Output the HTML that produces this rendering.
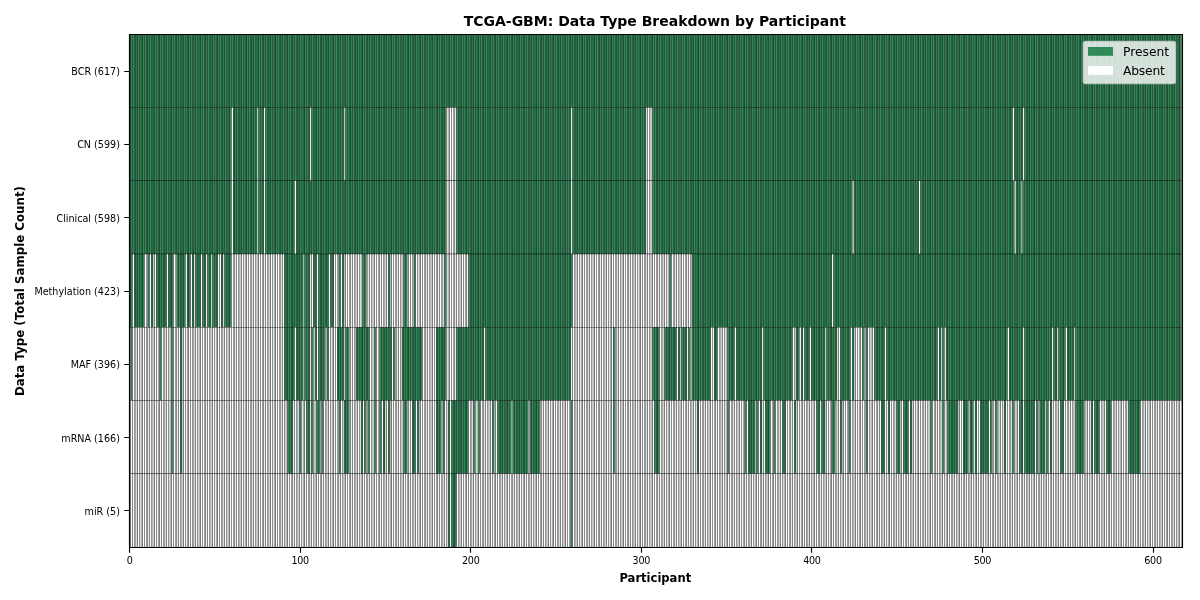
<!DOCTYPE html>
<html lang="en"><head><meta charset="utf-8"><title>TCGA-GBM: Data Type Breakdown by Participant</title>
<style>html,body{margin:0;padding:0;background:#fff}body{width:1200px;height:600px;overflow:hidden}svg{display:block}text{font-family:"DejaVu Sans","Liberation Sans",sans-serif;fill:#000}.k rect{stroke:#000;stroke-width:0.347;height:83.277px;width:1.70559px}.g{fill:#2e8b57}.w{fill:#fff}.tk{font-size:9.6px}.b{font-weight:bold}.sp{stroke:#000;stroke-width:1.11;fill:none;stroke-linecap:square}.t{stroke:#000;stroke-width:1.11;fill:none}</style></head><body>
<svg width="1200" height="600" viewBox="0 0 1200 600">
<rect width="1200" height="600" fill="#fff"/>
<defs>
<clipPath id="r0"><rect x="128.15" y="34.19" width="1054.35" height="73.277"/></clipPath>
<clipPath id="r1"><rect x="128.15" y="107.467" width="1054.35" height="73.277"/></clipPath>
<clipPath id="r2"><rect x="128.15" y="180.744" width="1054.35" height="73.277"/></clipPath>
<clipPath id="r3"><rect x="128.15" y="254.021" width="1054.35" height="73.277"/></clipPath>
<clipPath id="r4"><rect x="128.15" y="327.299" width="1054.35" height="73.277"/></clipPath>
<clipPath id="r5"><rect x="128.15" y="400.576" width="1054.35" height="73.277"/></clipPath>
<clipPath id="r6"><rect x="128.15" y="473.853" width="1054.35" height="73.277"/></clipPath>
</defs>
<g class="c">
<g clip-path="url(#r0)"><g class="k" transform="translate(0 29.19)">
<rect class="g" x="129.15"/><rect class="g" x="130.856"/><rect class="g" x="132.561"/><rect class="g" x="134.267"/><rect class="g" x="135.972"/><rect class="g" x="137.678"/><rect class="g" x="139.384"/><rect class="g" x="141.089"/><rect class="g" x="142.795"/><rect class="g" x="144.5"/><rect class="g" x="146.206"/><rect class="g" x="147.912"/><rect class="g" x="149.617"/><rect class="g" x="151.323"/><rect class="g" x="153.028"/><rect class="g" x="154.734"/><rect class="g" x="156.439"/><rect class="g" x="158.145"/><rect class="g" x="159.851"/><rect class="g" x="161.556"/><rect class="g" x="163.262"/><rect class="g" x="164.967"/><rect class="g" x="166.673"/><rect class="g" x="168.379"/><rect class="g" x="170.084"/><rect class="g" x="171.79"/><rect class="g" x="173.495"/><rect class="g" x="175.201"/><rect class="g" x="176.907"/><rect class="g" x="178.612"/><rect class="g" x="180.318"/><rect class="g" x="182.023"/><rect class="g" x="183.729"/><rect class="g" x="185.435"/><rect class="g" x="187.14"/><rect class="g" x="188.846"/><rect class="g" x="190.551"/><rect class="g" x="192.257"/><rect class="g" x="193.962"/><rect class="g" x="195.668"/><rect class="g" x="197.374"/><rect class="g" x="199.079"/><rect class="g" x="200.785"/><rect class="g" x="202.49"/><rect class="g" x="204.196"/><rect class="g" x="205.902"/><rect class="g" x="207.607"/><rect class="g" x="209.313"/><rect class="g" x="211.018"/><rect class="g" x="212.724"/><rect class="g" x="214.43"/><rect class="g" x="216.135"/><rect class="g" x="217.841"/><rect class="g" x="219.546"/><rect class="g" x="221.252"/><rect class="g" x="222.958"/><rect class="g" x="224.663"/><rect class="g" x="226.369"/><rect class="g" x="228.074"/><rect class="g" x="229.78"/><rect class="g" x="231.485"/><rect class="g" x="233.191"/><rect class="g" x="234.897"/><rect class="g" x="236.602"/><rect class="g" x="238.308"/><rect class="g" x="240.013"/><rect class="g" x="241.719"/><rect class="g" x="243.425"/><rect class="g" x="245.13"/><rect class="g" x="246.836"/><rect class="g" x="248.541"/><rect class="g" x="250.247"/><rect class="g" x="251.953"/><rect class="g" x="253.658"/><rect class="g" x="255.364"/><rect class="g" x="257.069"/><rect class="g" x="258.775"/><rect class="g" x="260.481"/><rect class="g" x="262.186"/><rect class="g" x="263.892"/><rect class="g" x="265.597"/><rect class="g" x="267.303"/><rect class="g" x="269.009"/><rect class="g" x="270.714"/><rect class="g" x="272.42"/><rect class="g" x="274.125"/><rect class="g" x="275.831"/><rect class="g" x="277.536"/><rect class="g" x="279.242"/><rect class="g" x="280.948"/><rect class="g" x="282.653"/><rect class="g" x="284.359"/><rect class="g" x="286.064"/><rect class="g" x="287.77"/><rect class="g" x="289.476"/><rect class="g" x="291.181"/><rect class="g" x="292.887"/><rect class="g" x="294.592"/><rect class="g" x="296.298"/><rect class="g" x="298.004"/><rect class="g" x="299.709"/><rect class="g" x="301.415"/><rect class="g" x="303.12"/><rect class="g" x="304.826"/><rect class="g" x="306.532"/><rect class="g" x="308.237"/><rect class="g" x="309.943"/><rect class="g" x="311.648"/><rect class="g" x="313.354"/><rect class="g" x="315.059"/><rect class="g" x="316.765"/><rect class="g" x="318.471"/><rect class="g" x="320.176"/><rect class="g" x="321.882"/><rect class="g" x="323.587"/><rect class="g" x="325.293"/><rect class="g" x="326.999"/><rect class="g" x="328.704"/><rect class="g" x="330.41"/><rect class="g" x="332.115"/><rect class="g" x="333.821"/><rect class="g" x="335.527"/><rect class="g" x="337.232"/><rect class="g" x="338.938"/><rect class="g" x="340.643"/><rect class="g" x="342.349"/><rect class="g" x="344.055"/><rect class="g" x="345.76"/><rect class="g" x="347.466"/><rect class="g" x="349.171"/><rect class="g" x="350.877"/><rect class="g" x="352.582"/><rect class="g" x="354.288"/><rect class="g" x="355.994"/><rect class="g" x="357.699"/><rect class="g" x="359.405"/><rect class="g" x="361.11"/><rect class="g" x="362.816"/><rect class="g" x="364.522"/><rect class="g" x="366.227"/><rect class="g" x="367.933"/><rect class="g" x="369.638"/><rect class="g" x="371.344"/><rect class="g" x="373.05"/><rect class="g" x="374.755"/><rect class="g" x="376.461"/><rect class="g" x="378.166"/><rect class="g" x="379.872"/><rect class="g" x="381.578"/><rect class="g" x="383.283"/><rect class="g" x="384.989"/><rect class="g" x="386.694"/><rect class="g" x="388.4"/><rect class="g" x="390.106"/><rect class="g" x="391.811"/><rect class="g" x="393.517"/><rect class="g" x="395.222"/><rect class="g" x="396.928"/><rect class="g" x="398.633"/><rect class="g" x="400.339"/><rect class="g" x="402.045"/><rect class="g" x="403.75"/><rect class="g" x="405.456"/><rect class="g" x="407.161"/><rect class="g" x="408.867"/><rect class="g" x="410.573"/><rect class="g" x="412.278"/><rect class="g" x="413.984"/><rect class="g" x="415.689"/><rect class="g" x="417.395"/><rect class="g" x="419.101"/><rect class="g" x="420.806"/><rect class="g" x="422.512"/><rect class="g" x="424.217"/><rect class="g" x="425.923"/><rect class="g" x="427.629"/><rect class="g" x="429.334"/><rect class="g" x="431.04"/><rect class="g" x="432.745"/><rect class="g" x="434.451"/><rect class="g" x="436.156"/><rect class="g" x="437.862"/><rect class="g" x="439.568"/><rect class="g" x="441.273"/><rect class="g" x="442.979"/><rect class="g" x="444.684"/><rect class="g" x="446.39"/><rect class="g" x="448.096"/><rect class="g" x="449.801"/><rect class="g" x="451.507"/><rect class="g" x="453.212"/><rect class="g" x="454.918"/><rect class="g" x="456.624"/><rect class="g" x="458.329"/><rect class="g" x="460.035"/><rect class="g" x="461.74"/><rect class="g" x="463.446"/><rect class="g" x="465.152"/><rect class="g" x="466.857"/><rect class="g" x="468.563"/><rect class="g" x="470.268"/><rect class="g" x="471.974"/><rect class="g" x="473.679"/><rect class="g" x="475.385"/><rect class="g" x="477.091"/><rect class="g" x="478.796"/><rect class="g" x="480.502"/><rect class="g" x="482.207"/><rect class="g" x="483.913"/><rect class="g" x="485.619"/><rect class="g" x="487.324"/><rect class="g" x="489.03"/><rect class="g" x="490.735"/><rect class="g" x="492.441"/><rect class="g" x="494.147"/><rect class="g" x="495.852"/><rect class="g" x="497.558"/><rect class="g" x="499.263"/><rect class="g" x="500.969"/><rect class="g" x="502.675"/><rect class="g" x="504.38"/><rect class="g" x="506.086"/><rect class="g" x="507.791"/><rect class="g" x="509.497"/><rect class="g" x="511.203"/><rect class="g" x="512.908"/><rect class="g" x="514.614"/><rect class="g" x="516.319"/><rect class="g" x="518.025"/><rect class="g" x="519.73"/><rect class="g" x="521.436"/><rect class="g" x="523.142"/><rect class="g" x="524.847"/><rect class="g" x="526.553"/><rect class="g" x="528.258"/><rect class="g" x="529.964"/><rect class="g" x="531.67"/><rect class="g" x="533.375"/><rect class="g" x="535.081"/><rect class="g" x="536.786"/><rect class="g" x="538.492"/><rect class="g" x="540.198"/><rect class="g" x="541.903"/><rect class="g" x="543.609"/><rect class="g" x="545.314"/><rect class="g" x="547.02"/><rect class="g" x="548.726"/><rect class="g" x="550.431"/><rect class="g" x="552.137"/><rect class="g" x="553.842"/><rect class="g" x="555.548"/><rect class="g" x="557.253"/><rect class="g" x="558.959"/><rect class="g" x="560.665"/><rect class="g" x="562.37"/><rect class="g" x="564.076"/><rect class="g" x="565.781"/><rect class="g" x="567.487"/><rect class="g" x="569.193"/><rect class="g" x="570.898"/><rect class="g" x="572.604"/><rect class="g" x="574.309"/><rect class="g" x="576.015"/><rect class="g" x="577.721"/><rect class="g" x="579.426"/><rect class="g" x="581.132"/><rect class="g" x="582.837"/><rect class="g" x="584.543"/><rect class="g" x="586.249"/><rect class="g" x="587.954"/><rect class="g" x="589.66"/><rect class="g" x="591.365"/><rect class="g" x="593.071"/><rect class="g" x="594.776"/><rect class="g" x="596.482"/><rect class="g" x="598.188"/><rect class="g" x="599.893"/><rect class="g" x="601.599"/><rect class="g" x="603.304"/><rect class="g" x="605.01"/><rect class="g" x="606.716"/><rect class="g" x="608.421"/><rect class="g" x="610.127"/><rect class="g" x="611.832"/><rect class="g" x="613.538"/><rect class="g" x="615.244"/><rect class="g" x="616.949"/><rect class="g" x="618.655"/><rect class="g" x="620.36"/><rect class="g" x="622.066"/><rect class="g" x="623.772"/><rect class="g" x="625.477"/><rect class="g" x="627.183"/><rect class="g" x="628.888"/><rect class="g" x="630.594"/><rect class="g" x="632.3"/><rect class="g" x="634.005"/><rect class="g" x="635.711"/><rect class="g" x="637.416"/><rect class="g" x="639.122"/><rect class="g" x="640.827"/><rect class="g" x="642.533"/><rect class="g" x="644.239"/><rect class="g" x="645.944"/><rect class="g" x="647.65"/><rect class="g" x="649.355"/><rect class="g" x="651.061"/><rect class="g" x="652.767"/><rect class="g" x="654.472"/><rect class="g" x="656.178"/><rect class="g" x="657.883"/><rect class="g" x="659.589"/><rect class="g" x="661.295"/><rect class="g" x="663"/><rect class="g" x="664.706"/><rect class="g" x="666.411"/><rect class="g" x="668.117"/><rect class="g" x="669.823"/><rect class="g" x="671.528"/><rect class="g" x="673.234"/><rect class="g" x="674.939"/><rect class="g" x="676.645"/><rect class="g" x="678.35"/><rect class="g" x="680.056"/><rect class="g" x="681.762"/><rect class="g" x="683.467"/><rect class="g" x="685.173"/><rect class="g" x="686.878"/><rect class="g" x="688.584"/><rect class="g" x="690.29"/><rect class="g" x="691.995"/><rect class="g" x="693.701"/><rect class="g" x="695.406"/><rect class="g" x="697.112"/><rect class="g" x="698.818"/><rect class="g" x="700.523"/><rect class="g" x="702.229"/><rect class="g" x="703.934"/><rect class="g" x="705.64"/><rect class="g" x="707.346"/><rect class="g" x="709.051"/><rect class="g" x="710.757"/><rect class="g" x="712.462"/><rect class="g" x="714.168"/><rect class="g" x="715.874"/><rect class="g" x="717.579"/><rect class="g" x="719.285"/><rect class="g" x="720.99"/><rect class="g" x="722.696"/><rect class="g" x="724.401"/><rect class="g" x="726.107"/><rect class="g" x="727.813"/><rect class="g" x="729.518"/><rect class="g" x="731.224"/><rect class="g" x="732.929"/><rect class="g" x="734.635"/><rect class="g" x="736.341"/><rect class="g" x="738.046"/><rect class="g" x="739.752"/><rect class="g" x="741.457"/><rect class="g" x="743.163"/><rect class="g" x="744.869"/><rect class="g" x="746.574"/><rect class="g" x="748.28"/><rect class="g" x="749.985"/><rect class="g" x="751.691"/><rect class="g" x="753.397"/><rect class="g" x="755.102"/><rect class="g" x="756.808"/><rect class="g" x="758.513"/><rect class="g" x="760.219"/><rect class="g" x="761.924"/><rect class="g" x="763.63"/><rect class="g" x="765.336"/><rect class="g" x="767.041"/><rect class="g" x="768.747"/><rect class="g" x="770.452"/><rect class="g" x="772.158"/><rect class="g" x="773.864"/><rect class="g" x="775.569"/><rect class="g" x="777.275"/><rect class="g" x="778.98"/><rect class="g" x="780.686"/><rect class="g" x="782.392"/><rect class="g" x="784.097"/><rect class="g" x="785.803"/><rect class="g" x="787.508"/><rect class="g" x="789.214"/><rect class="g" x="790.92"/><rect class="g" x="792.625"/><rect class="g" x="794.331"/><rect class="g" x="796.036"/><rect class="g" x="797.742"/><rect class="g" x="799.447"/><rect class="g" x="801.153"/><rect class="g" x="802.859"/><rect class="g" x="804.564"/><rect class="g" x="806.27"/><rect class="g" x="807.975"/><rect class="g" x="809.681"/><rect class="g" x="811.387"/><rect class="g" x="813.092"/><rect class="g" x="814.798"/><rect class="g" x="816.503"/><rect class="g" x="818.209"/><rect class="g" x="819.915"/><rect class="g" x="821.62"/><rect class="g" x="823.326"/><rect class="g" x="825.031"/><rect class="g" x="826.737"/><rect class="g" x="828.443"/><rect class="g" x="830.148"/><rect class="g" x="831.854"/><rect class="g" x="833.559"/><rect class="g" x="835.265"/><rect class="g" x="836.971"/><rect class="g" x="838.676"/><rect class="g" x="840.382"/><rect class="g" x="842.087"/><rect class="g" x="843.793"/><rect class="g" x="845.498"/><rect class="g" x="847.204"/><rect class="g" x="848.91"/><rect class="g" x="850.615"/><rect class="g" x="852.321"/><rect class="g" x="854.026"/><rect class="g" x="855.732"/><rect class="g" x="857.438"/><rect class="g" x="859.143"/><rect class="g" x="860.849"/><rect class="g" x="862.554"/><rect class="g" x="864.26"/><rect class="g" x="865.966"/><rect class="g" x="867.671"/><rect class="g" x="869.377"/><rect class="g" x="871.082"/><rect class="g" x="872.788"/><rect class="g" x="874.494"/><rect class="g" x="876.199"/><rect class="g" x="877.905"/><rect class="g" x="879.61"/><rect class="g" x="881.316"/><rect class="g" x="883.021"/><rect class="g" x="884.727"/><rect class="g" x="886.433"/><rect class="g" x="888.138"/><rect class="g" x="889.844"/><rect class="g" x="891.549"/><rect class="g" x="893.255"/><rect class="g" x="894.961"/><rect class="g" x="896.666"/><rect class="g" x="898.372"/><rect class="g" x="900.077"/><rect class="g" x="901.783"/><rect class="g" x="903.489"/><rect class="g" x="905.194"/><rect class="g" x="906.9"/><rect class="g" x="908.605"/><rect class="g" x="910.311"/><rect class="g" x="912.017"/><rect class="g" x="913.722"/><rect class="g" x="915.428"/><rect class="g" x="917.133"/><rect class="g" x="918.839"/><rect class="g" x="920.544"/><rect class="g" x="922.25"/><rect class="g" x="923.956"/><rect class="g" x="925.661"/><rect class="g" x="927.367"/><rect class="g" x="929.072"/><rect class="g" x="930.778"/><rect class="g" x="932.484"/><rect class="g" x="934.189"/><rect class="g" x="935.895"/><rect class="g" x="937.6"/><rect class="g" x="939.306"/><rect class="g" x="941.012"/><rect class="g" x="942.717"/><rect class="g" x="944.423"/><rect class="g" x="946.128"/><rect class="g" x="947.834"/><rect class="g" x="949.54"/><rect class="g" x="951.245"/><rect class="g" x="952.951"/><rect class="g" x="954.656"/><rect class="g" x="956.362"/><rect class="g" x="958.068"/><rect class="g" x="959.773"/><rect class="g" x="961.479"/><rect class="g" x="963.184"/><rect class="g" x="964.89"/><rect class="g" x="966.595"/><rect class="g" x="968.301"/><rect class="g" x="970.007"/><rect class="g" x="971.712"/><rect class="g" x="973.418"/><rect class="g" x="975.123"/><rect class="g" x="976.829"/><rect class="g" x="978.535"/><rect class="g" x="980.24"/><rect class="g" x="981.946"/><rect class="g" x="983.651"/><rect class="g" x="985.357"/><rect class="g" x="987.063"/><rect class="g" x="988.768"/><rect class="g" x="990.474"/><rect class="g" x="992.179"/><rect class="g" x="993.885"/><rect class="g" x="995.591"/><rect class="g" x="997.296"/><rect class="g" x="999.002"/><rect class="g" x="1000.707"/><rect class="g" x="1002.413"/><rect class="g" x="1004.118"/><rect class="g" x="1005.824"/><rect class="g" x="1007.53"/><rect class="g" x="1009.235"/><rect class="g" x="1010.941"/><rect class="g" x="1012.646"/><rect class="g" x="1014.352"/><rect class="g" x="1016.058"/><rect class="g" x="1017.763"/><rect class="g" x="1019.469"/><rect class="g" x="1021.174"/><rect class="g" x="1022.88"/><rect class="g" x="1024.586"/><rect class="g" x="1026.291"/><rect class="g" x="1027.997"/><rect class="g" x="1029.702"/><rect class="g" x="1031.408"/><rect class="g" x="1033.114"/><rect class="g" x="1034.819"/><rect class="g" x="1036.525"/><rect class="g" x="1038.23"/><rect class="g" x="1039.936"/><rect class="g" x="1041.641"/><rect class="g" x="1043.347"/><rect class="g" x="1045.053"/><rect class="g" x="1046.758"/><rect class="g" x="1048.464"/><rect class="g" x="1050.169"/><rect class="g" x="1051.875"/><rect class="g" x="1053.581"/><rect class="g" x="1055.286"/><rect class="g" x="1056.992"/><rect class="g" x="1058.697"/><rect class="g" x="1060.403"/><rect class="g" x="1062.109"/><rect class="g" x="1063.814"/><rect class="g" x="1065.52"/><rect class="g" x="1067.225"/><rect class="g" x="1068.931"/><rect class="g" x="1070.637"/><rect class="g" x="1072.342"/><rect class="g" x="1074.048"/><rect class="g" x="1075.753"/><rect class="g" x="1077.459"/><rect class="g" x="1079.165"/><rect class="g" x="1080.87"/><rect class="g" x="1082.576"/><rect class="g" x="1084.281"/><rect class="g" x="1085.987"/><rect class="g" x="1087.692"/><rect class="g" x="1089.398"/><rect class="g" x="1091.104"/><rect class="g" x="1092.809"/><rect class="g" x="1094.515"/><rect class="g" x="1096.22"/><rect class="g" x="1097.926"/><rect class="g" x="1099.632"/><rect class="g" x="1101.337"/><rect class="g" x="1103.043"/><rect class="g" x="1104.748"/><rect class="g" x="1106.454"/><rect class="g" x="1108.16"/><rect class="g" x="1109.865"/><rect class="g" x="1111.571"/><rect class="g" x="1113.276"/><rect class="g" x="1114.982"/><rect class="g" x="1116.688"/><rect class="g" x="1118.393"/><rect class="g" x="1120.099"/><rect class="g" x="1121.804"/><rect class="g" x="1123.51"/><rect class="g" x="1125.215"/><rect class="g" x="1126.921"/><rect class="g" x="1128.627"/><rect class="g" x="1130.332"/><rect class="g" x="1132.038"/><rect class="g" x="1133.743"/><rect class="g" x="1135.449"/><rect class="g" x="1137.155"/><rect class="g" x="1138.86"/><rect class="g" x="1140.566"/><rect class="g" x="1142.271"/><rect class="g" x="1143.977"/><rect class="g" x="1145.683"/><rect class="g" x="1147.388"/><rect class="g" x="1149.094"/><rect class="g" x="1150.799"/><rect class="g" x="1152.505"/><rect class="g" x="1154.211"/><rect class="g" x="1155.916"/><rect class="g" x="1157.622"/><rect class="g" x="1159.327"/><rect class="g" x="1161.033"/><rect class="g" x="1162.738"/><rect class="g" x="1164.444"/><rect class="g" x="1166.15"/><rect class="g" x="1167.855"/><rect class="g" x="1169.561"/><rect class="g" x="1171.266"/><rect class="g" x="1172.972"/><rect class="g" x="1174.678"/><rect class="g" x="1176.383"/><rect class="g" x="1178.089"/><rect class="g" x="1179.794"/>
</g></g>
<rect x="128.976" y="34.016" width="1052.697" height="0.347"/>
<rect x="128.976" y="107.294" width="1052.697" height="0.347"/>
<g clip-path="url(#r1)"><g class="k" transform="translate(0 102.467)">
<rect class="g" x="129.15"/><rect class="g" x="130.856"/><rect class="g" x="132.561"/><rect class="g" x="134.267"/><rect class="g" x="135.972"/><rect class="g" x="137.678"/><rect class="g" x="139.384"/><rect class="g" x="141.089"/><rect class="g" x="142.795"/><rect class="g" x="144.5"/><rect class="g" x="146.206"/><rect class="g" x="147.912"/><rect class="g" x="149.617"/><rect class="g" x="151.323"/><rect class="g" x="153.028"/><rect class="g" x="154.734"/><rect class="g" x="156.439"/><rect class="g" x="158.145"/><rect class="g" x="159.851"/><rect class="g" x="161.556"/><rect class="g" x="163.262"/><rect class="g" x="164.967"/><rect class="g" x="166.673"/><rect class="g" x="168.379"/><rect class="g" x="170.084"/><rect class="g" x="171.79"/><rect class="g" x="173.495"/><rect class="g" x="175.201"/><rect class="g" x="176.907"/><rect class="g" x="178.612"/><rect class="g" x="180.318"/><rect class="g" x="182.023"/><rect class="g" x="183.729"/><rect class="g" x="185.435"/><rect class="g" x="187.14"/><rect class="g" x="188.846"/><rect class="g" x="190.551"/><rect class="g" x="192.257"/><rect class="g" x="193.962"/><rect class="g" x="195.668"/><rect class="g" x="197.374"/><rect class="g" x="199.079"/><rect class="g" x="200.785"/><rect class="g" x="202.49"/><rect class="g" x="204.196"/><rect class="g" x="205.902"/><rect class="g" x="207.607"/><rect class="g" x="209.313"/><rect class="g" x="211.018"/><rect class="g" x="212.724"/><rect class="g" x="214.43"/><rect class="g" x="216.135"/><rect class="g" x="217.841"/><rect class="g" x="219.546"/><rect class="g" x="221.252"/><rect class="g" x="222.958"/><rect class="g" x="224.663"/><rect class="g" x="226.369"/><rect class="g" x="228.074"/><rect class="g" x="229.78"/><rect class="w" x="231.485"/><rect class="g" x="233.191"/><rect class="g" x="234.897"/><rect class="g" x="236.602"/><rect class="g" x="238.308"/><rect class="g" x="240.013"/><rect class="g" x="241.719"/><rect class="g" x="243.425"/><rect class="g" x="245.13"/><rect class="g" x="246.836"/><rect class="g" x="248.541"/><rect class="g" x="250.247"/><rect class="g" x="251.953"/><rect class="g" x="253.658"/><rect class="g" x="255.364"/><rect class="w" x="257.069"/><rect class="g" x="258.775"/><rect class="g" x="260.481"/><rect class="g" x="262.186"/><rect class="w" x="263.892"/><rect class="g" x="265.597"/><rect class="g" x="267.303"/><rect class="g" x="269.009"/><rect class="g" x="270.714"/><rect class="g" x="272.42"/><rect class="g" x="274.125"/><rect class="g" x="275.831"/><rect class="g" x="277.536"/><rect class="g" x="279.242"/><rect class="g" x="280.948"/><rect class="g" x="282.653"/><rect class="g" x="284.359"/><rect class="g" x="286.064"/><rect class="g" x="287.77"/><rect class="g" x="289.476"/><rect class="g" x="291.181"/><rect class="g" x="292.887"/><rect class="g" x="294.592"/><rect class="g" x="296.298"/><rect class="g" x="298.004"/><rect class="g" x="299.709"/><rect class="g" x="301.415"/><rect class="g" x="303.12"/><rect class="g" x="304.826"/><rect class="g" x="306.532"/><rect class="g" x="308.237"/><rect class="w" x="309.943"/><rect class="g" x="311.648"/><rect class="g" x="313.354"/><rect class="g" x="315.059"/><rect class="g" x="316.765"/><rect class="g" x="318.471"/><rect class="g" x="320.176"/><rect class="g" x="321.882"/><rect class="g" x="323.587"/><rect class="g" x="325.293"/><rect class="g" x="326.999"/><rect class="g" x="328.704"/><rect class="g" x="330.41"/><rect class="g" x="332.115"/><rect class="g" x="333.821"/><rect class="g" x="335.527"/><rect class="g" x="337.232"/><rect class="g" x="338.938"/><rect class="g" x="340.643"/><rect class="g" x="342.349"/><rect class="w" x="344.055"/><rect class="g" x="345.76"/><rect class="g" x="347.466"/><rect class="g" x="349.171"/><rect class="g" x="350.877"/><rect class="g" x="352.582"/><rect class="g" x="354.288"/><rect class="g" x="355.994"/><rect class="g" x="357.699"/><rect class="g" x="359.405"/><rect class="g" x="361.11"/><rect class="g" x="362.816"/><rect class="g" x="364.522"/><rect class="g" x="366.227"/><rect class="g" x="367.933"/><rect class="g" x="369.638"/><rect class="g" x="371.344"/><rect class="g" x="373.05"/><rect class="g" x="374.755"/><rect class="g" x="376.461"/><rect class="g" x="378.166"/><rect class="g" x="379.872"/><rect class="g" x="381.578"/><rect class="g" x="383.283"/><rect class="g" x="384.989"/><rect class="g" x="386.694"/><rect class="g" x="388.4"/><rect class="g" x="390.106"/><rect class="g" x="391.811"/><rect class="g" x="393.517"/><rect class="g" x="395.222"/><rect class="g" x="396.928"/><rect class="g" x="398.633"/><rect class="g" x="400.339"/><rect class="g" x="402.045"/><rect class="g" x="403.75"/><rect class="g" x="405.456"/><rect class="g" x="407.161"/><rect class="g" x="408.867"/><rect class="g" x="410.573"/><rect class="g" x="412.278"/><rect class="g" x="413.984"/><rect class="g" x="415.689"/><rect class="g" x="417.395"/><rect class="g" x="419.101"/><rect class="g" x="420.806"/><rect class="g" x="422.512"/><rect class="g" x="424.217"/><rect class="g" x="425.923"/><rect class="g" x="427.629"/><rect class="g" x="429.334"/><rect class="g" x="431.04"/><rect class="g" x="432.745"/><rect class="g" x="434.451"/><rect class="g" x="436.156"/><rect class="g" x="437.862"/><rect class="g" x="439.568"/><rect class="g" x="441.273"/><rect class="g" x="442.979"/><rect class="g" x="444.684"/><rect class="w" x="446.39"/><rect class="w" x="448.096"/><rect class="w" x="449.801"/><rect class="w" x="451.507"/><rect class="w" x="453.212"/><rect class="w" x="454.918"/><rect class="g" x="456.624"/><rect class="g" x="458.329"/><rect class="g" x="460.035"/><rect class="g" x="461.74"/><rect class="g" x="463.446"/><rect class="g" x="465.152"/><rect class="g" x="466.857"/><rect class="g" x="468.563"/><rect class="g" x="470.268"/><rect class="g" x="471.974"/><rect class="g" x="473.679"/><rect class="g" x="475.385"/><rect class="g" x="477.091"/><rect class="g" x="478.796"/><rect class="g" x="480.502"/><rect class="g" x="482.207"/><rect class="g" x="483.913"/><rect class="g" x="485.619"/><rect class="g" x="487.324"/><rect class="g" x="489.03"/><rect class="g" x="490.735"/><rect class="g" x="492.441"/><rect class="g" x="494.147"/><rect class="g" x="495.852"/><rect class="g" x="497.558"/><rect class="g" x="499.263"/><rect class="g" x="500.969"/><rect class="g" x="502.675"/><rect class="g" x="504.38"/><rect class="g" x="506.086"/><rect class="g" x="507.791"/><rect class="g" x="509.497"/><rect class="g" x="511.203"/><rect class="g" x="512.908"/><rect class="g" x="514.614"/><rect class="g" x="516.319"/><rect class="g" x="518.025"/><rect class="g" x="519.73"/><rect class="g" x="521.436"/><rect class="g" x="523.142"/><rect class="g" x="524.847"/><rect class="g" x="526.553"/><rect class="g" x="528.258"/><rect class="g" x="529.964"/><rect class="g" x="531.67"/><rect class="g" x="533.375"/><rect class="g" x="535.081"/><rect class="g" x="536.786"/><rect class="g" x="538.492"/><rect class="g" x="540.198"/><rect class="g" x="541.903"/><rect class="g" x="543.609"/><rect class="g" x="545.314"/><rect class="g" x="547.02"/><rect class="g" x="548.726"/><rect class="g" x="550.431"/><rect class="g" x="552.137"/><rect class="g" x="553.842"/><rect class="g" x="555.548"/><rect class="g" x="557.253"/><rect class="g" x="558.959"/><rect class="g" x="560.665"/><rect class="g" x="562.37"/><rect class="g" x="564.076"/><rect class="g" x="565.781"/><rect class="g" x="567.487"/><rect class="g" x="569.193"/><rect class="w" x="570.898"/><rect class="g" x="572.604"/><rect class="g" x="574.309"/><rect class="g" x="576.015"/><rect class="g" x="577.721"/><rect class="g" x="579.426"/><rect class="g" x="581.132"/><rect class="g" x="582.837"/><rect class="g" x="584.543"/><rect class="g" x="586.249"/><rect class="g" x="587.954"/><rect class="g" x="589.66"/><rect class="g" x="591.365"/><rect class="g" x="593.071"/><rect class="g" x="594.776"/><rect class="g" x="596.482"/><rect class="g" x="598.188"/><rect class="g" x="599.893"/><rect class="g" x="601.599"/><rect class="g" x="603.304"/><rect class="g" x="605.01"/><rect class="g" x="606.716"/><rect class="g" x="608.421"/><rect class="g" x="610.127"/><rect class="g" x="611.832"/><rect class="g" x="613.538"/><rect class="g" x="615.244"/><rect class="g" x="616.949"/><rect class="g" x="618.655"/><rect class="g" x="620.36"/><rect class="g" x="622.066"/><rect class="g" x="623.772"/><rect class="g" x="625.477"/><rect class="g" x="627.183"/><rect class="g" x="628.888"/><rect class="g" x="630.594"/><rect class="g" x="632.3"/><rect class="g" x="634.005"/><rect class="g" x="635.711"/><rect class="g" x="637.416"/><rect class="g" x="639.122"/><rect class="g" x="640.827"/><rect class="g" x="642.533"/><rect class="g" x="644.239"/><rect class="w" x="645.944"/><rect class="w" x="647.65"/><rect class="w" x="649.355"/><rect class="w" x="651.061"/><rect class="g" x="652.767"/><rect class="g" x="654.472"/><rect class="g" x="656.178"/><rect class="g" x="657.883"/><rect class="g" x="659.589"/><rect class="g" x="661.295"/><rect class="g" x="663"/><rect class="g" x="664.706"/><rect class="g" x="666.411"/><rect class="g" x="668.117"/><rect class="g" x="669.823"/><rect class="g" x="671.528"/><rect class="g" x="673.234"/><rect class="g" x="674.939"/><rect class="g" x="676.645"/><rect class="g" x="678.35"/><rect class="g" x="680.056"/><rect class="g" x="681.762"/><rect class="g" x="683.467"/><rect class="g" x="685.173"/><rect class="g" x="686.878"/><rect class="g" x="688.584"/><rect class="g" x="690.29"/><rect class="g" x="691.995"/><rect class="g" x="693.701"/><rect class="g" x="695.406"/><rect class="g" x="697.112"/><rect class="g" x="698.818"/><rect class="g" x="700.523"/><rect class="g" x="702.229"/><rect class="g" x="703.934"/><rect class="g" x="705.64"/><rect class="g" x="707.346"/><rect class="g" x="709.051"/><rect class="g" x="710.757"/><rect class="g" x="712.462"/><rect class="g" x="714.168"/><rect class="g" x="715.874"/><rect class="g" x="717.579"/><rect class="g" x="719.285"/><rect class="g" x="720.99"/><rect class="g" x="722.696"/><rect class="g" x="724.401"/><rect class="g" x="726.107"/><rect class="g" x="727.813"/><rect class="g" x="729.518"/><rect class="g" x="731.224"/><rect class="g" x="732.929"/><rect class="g" x="734.635"/><rect class="g" x="736.341"/><rect class="g" x="738.046"/><rect class="g" x="739.752"/><rect class="g" x="741.457"/><rect class="g" x="743.163"/><rect class="g" x="744.869"/><rect class="g" x="746.574"/><rect class="g" x="748.28"/><rect class="g" x="749.985"/><rect class="g" x="751.691"/><rect class="g" x="753.397"/><rect class="g" x="755.102"/><rect class="g" x="756.808"/><rect class="g" x="758.513"/><rect class="g" x="760.219"/><rect class="g" x="761.924"/><rect class="g" x="763.63"/><rect class="g" x="765.336"/><rect class="g" x="767.041"/><rect class="g" x="768.747"/><rect class="g" x="770.452"/><rect class="g" x="772.158"/><rect class="g" x="773.864"/><rect class="g" x="775.569"/><rect class="g" x="777.275"/><rect class="g" x="778.98"/><rect class="g" x="780.686"/><rect class="g" x="782.392"/><rect class="g" x="784.097"/><rect class="g" x="785.803"/><rect class="g" x="787.508"/><rect class="g" x="789.214"/><rect class="g" x="790.92"/><rect class="g" x="792.625"/><rect class="g" x="794.331"/><rect class="g" x="796.036"/><rect class="g" x="797.742"/><rect class="g" x="799.447"/><rect class="g" x="801.153"/><rect class="g" x="802.859"/><rect class="g" x="804.564"/><rect class="g" x="806.27"/><rect class="g" x="807.975"/><rect class="g" x="809.681"/><rect class="g" x="811.387"/><rect class="g" x="813.092"/><rect class="g" x="814.798"/><rect class="g" x="816.503"/><rect class="g" x="818.209"/><rect class="g" x="819.915"/><rect class="g" x="821.62"/><rect class="g" x="823.326"/><rect class="g" x="825.031"/><rect class="g" x="826.737"/><rect class="g" x="828.443"/><rect class="g" x="830.148"/><rect class="g" x="831.854"/><rect class="g" x="833.559"/><rect class="g" x="835.265"/><rect class="g" x="836.971"/><rect class="g" x="838.676"/><rect class="g" x="840.382"/><rect class="g" x="842.087"/><rect class="g" x="843.793"/><rect class="g" x="845.498"/><rect class="g" x="847.204"/><rect class="g" x="848.91"/><rect class="g" x="850.615"/><rect class="g" x="852.321"/><rect class="g" x="854.026"/><rect class="g" x="855.732"/><rect class="g" x="857.438"/><rect class="g" x="859.143"/><rect class="g" x="860.849"/><rect class="g" x="862.554"/><rect class="g" x="864.26"/><rect class="g" x="865.966"/><rect class="g" x="867.671"/><rect class="g" x="869.377"/><rect class="g" x="871.082"/><rect class="g" x="872.788"/><rect class="g" x="874.494"/><rect class="g" x="876.199"/><rect class="g" x="877.905"/><rect class="g" x="879.61"/><rect class="g" x="881.316"/><rect class="g" x="883.021"/><rect class="g" x="884.727"/><rect class="g" x="886.433"/><rect class="g" x="888.138"/><rect class="g" x="889.844"/><rect class="g" x="891.549"/><rect class="g" x="893.255"/><rect class="g" x="894.961"/><rect class="g" x="896.666"/><rect class="g" x="898.372"/><rect class="g" x="900.077"/><rect class="g" x="901.783"/><rect class="g" x="903.489"/><rect class="g" x="905.194"/><rect class="g" x="906.9"/><rect class="g" x="908.605"/><rect class="g" x="910.311"/><rect class="g" x="912.017"/><rect class="g" x="913.722"/><rect class="g" x="915.428"/><rect class="g" x="917.133"/><rect class="g" x="918.839"/><rect class="g" x="920.544"/><rect class="g" x="922.25"/><rect class="g" x="923.956"/><rect class="g" x="925.661"/><rect class="g" x="927.367"/><rect class="g" x="929.072"/><rect class="g" x="930.778"/><rect class="g" x="932.484"/><rect class="g" x="934.189"/><rect class="g" x="935.895"/><rect class="g" x="937.6"/><rect class="g" x="939.306"/><rect class="g" x="941.012"/><rect class="g" x="942.717"/><rect class="g" x="944.423"/><rect class="g" x="946.128"/><rect class="g" x="947.834"/><rect class="g" x="949.54"/><rect class="g" x="951.245"/><rect class="g" x="952.951"/><rect class="g" x="954.656"/><rect class="g" x="956.362"/><rect class="g" x="958.068"/><rect class="g" x="959.773"/><rect class="g" x="961.479"/><rect class="g" x="963.184"/><rect class="g" x="964.89"/><rect class="g" x="966.595"/><rect class="g" x="968.301"/><rect class="g" x="970.007"/><rect class="g" x="971.712"/><rect class="g" x="973.418"/><rect class="g" x="975.123"/><rect class="g" x="976.829"/><rect class="g" x="978.535"/><rect class="g" x="980.24"/><rect class="g" x="981.946"/><rect class="g" x="983.651"/><rect class="g" x="985.357"/><rect class="g" x="987.063"/><rect class="g" x="988.768"/><rect class="g" x="990.474"/><rect class="g" x="992.179"/><rect class="g" x="993.885"/><rect class="g" x="995.591"/><rect class="g" x="997.296"/><rect class="g" x="999.002"/><rect class="g" x="1000.707"/><rect class="g" x="1002.413"/><rect class="g" x="1004.118"/><rect class="g" x="1005.824"/><rect class="g" x="1007.53"/><rect class="g" x="1009.235"/><rect class="g" x="1010.941"/><rect class="w" x="1012.646"/><rect class="g" x="1014.352"/><rect class="g" x="1016.058"/><rect class="g" x="1017.763"/><rect class="g" x="1019.469"/><rect class="g" x="1021.174"/><rect class="w" x="1022.88"/><rect class="g" x="1024.586"/><rect class="g" x="1026.291"/><rect class="g" x="1027.997"/><rect class="g" x="1029.702"/><rect class="g" x="1031.408"/><rect class="g" x="1033.114"/><rect class="g" x="1034.819"/><rect class="g" x="1036.525"/><rect class="g" x="1038.23"/><rect class="g" x="1039.936"/><rect class="g" x="1041.641"/><rect class="g" x="1043.347"/><rect class="g" x="1045.053"/><rect class="g" x="1046.758"/><rect class="g" x="1048.464"/><rect class="g" x="1050.169"/><rect class="g" x="1051.875"/><rect class="g" x="1053.581"/><rect class="g" x="1055.286"/><rect class="g" x="1056.992"/><rect class="g" x="1058.697"/><rect class="g" x="1060.403"/><rect class="g" x="1062.109"/><rect class="g" x="1063.814"/><rect class="g" x="1065.52"/><rect class="g" x="1067.225"/><rect class="g" x="1068.931"/><rect class="g" x="1070.637"/><rect class="g" x="1072.342"/><rect class="g" x="1074.048"/><rect class="g" x="1075.753"/><rect class="g" x="1077.459"/><rect class="g" x="1079.165"/><rect class="g" x="1080.87"/><rect class="g" x="1082.576"/><rect class="g" x="1084.281"/><rect class="g" x="1085.987"/><rect class="g" x="1087.692"/><rect class="g" x="1089.398"/><rect class="g" x="1091.104"/><rect class="g" x="1092.809"/><rect class="g" x="1094.515"/><rect class="g" x="1096.22"/><rect class="g" x="1097.926"/><rect class="g" x="1099.632"/><rect class="g" x="1101.337"/><rect class="g" x="1103.043"/><rect class="g" x="1104.748"/><rect class="g" x="1106.454"/><rect class="g" x="1108.16"/><rect class="g" x="1109.865"/><rect class="g" x="1111.571"/><rect class="g" x="1113.276"/><rect class="g" x="1114.982"/><rect class="g" x="1116.688"/><rect class="g" x="1118.393"/><rect class="g" x="1120.099"/><rect class="g" x="1121.804"/><rect class="g" x="1123.51"/><rect class="g" x="1125.215"/><rect class="g" x="1126.921"/><rect class="g" x="1128.627"/><rect class="g" x="1130.332"/><rect class="g" x="1132.038"/><rect class="g" x="1133.743"/><rect class="g" x="1135.449"/><rect class="g" x="1137.155"/><rect class="g" x="1138.86"/><rect class="g" x="1140.566"/><rect class="g" x="1142.271"/><rect class="g" x="1143.977"/><rect class="g" x="1145.683"/><rect class="g" x="1147.388"/><rect class="g" x="1149.094"/><rect class="g" x="1150.799"/><rect class="g" x="1152.505"/><rect class="g" x="1154.211"/><rect class="g" x="1155.916"/><rect class="g" x="1157.622"/><rect class="g" x="1159.327"/><rect class="g" x="1161.033"/><rect class="g" x="1162.738"/><rect class="g" x="1164.444"/><rect class="g" x="1166.15"/><rect class="g" x="1167.855"/><rect class="g" x="1169.561"/><rect class="g" x="1171.266"/><rect class="g" x="1172.972"/><rect class="g" x="1174.678"/><rect class="g" x="1176.383"/><rect class="g" x="1178.089"/><rect class="g" x="1179.794"/>
</g></g>
<rect x="128.976" y="107.294" width="1052.697" height="0.347"/>
<rect x="128.976" y="180.571" width="1052.697" height="0.347"/>
<g clip-path="url(#r2)"><g class="k" transform="translate(0 175.744)">
<rect class="g" x="129.15"/><rect class="g" x="130.856"/><rect class="g" x="132.561"/><rect class="g" x="134.267"/><rect class="g" x="135.972"/><rect class="g" x="137.678"/><rect class="g" x="139.384"/><rect class="g" x="141.089"/><rect class="g" x="142.795"/><rect class="g" x="144.5"/><rect class="g" x="146.206"/><rect class="g" x="147.912"/><rect class="g" x="149.617"/><rect class="g" x="151.323"/><rect class="g" x="153.028"/><rect class="g" x="154.734"/><rect class="g" x="156.439"/><rect class="g" x="158.145"/><rect class="g" x="159.851"/><rect class="g" x="161.556"/><rect class="g" x="163.262"/><rect class="g" x="164.967"/><rect class="g" x="166.673"/><rect class="g" x="168.379"/><rect class="g" x="170.084"/><rect class="g" x="171.79"/><rect class="g" x="173.495"/><rect class="g" x="175.201"/><rect class="g" x="176.907"/><rect class="g" x="178.612"/><rect class="g" x="180.318"/><rect class="g" x="182.023"/><rect class="g" x="183.729"/><rect class="g" x="185.435"/><rect class="g" x="187.14"/><rect class="g" x="188.846"/><rect class="g" x="190.551"/><rect class="g" x="192.257"/><rect class="g" x="193.962"/><rect class="g" x="195.668"/><rect class="g" x="197.374"/><rect class="g" x="199.079"/><rect class="g" x="200.785"/><rect class="g" x="202.49"/><rect class="g" x="204.196"/><rect class="g" x="205.902"/><rect class="g" x="207.607"/><rect class="g" x="209.313"/><rect class="g" x="211.018"/><rect class="g" x="212.724"/><rect class="g" x="214.43"/><rect class="g" x="216.135"/><rect class="g" x="217.841"/><rect class="g" x="219.546"/><rect class="g" x="221.252"/><rect class="g" x="222.958"/><rect class="g" x="224.663"/><rect class="g" x="226.369"/><rect class="g" x="228.074"/><rect class="g" x="229.78"/><rect class="w" x="231.485"/><rect class="g" x="233.191"/><rect class="g" x="234.897"/><rect class="g" x="236.602"/><rect class="g" x="238.308"/><rect class="g" x="240.013"/><rect class="g" x="241.719"/><rect class="g" x="243.425"/><rect class="g" x="245.13"/><rect class="g" x="246.836"/><rect class="g" x="248.541"/><rect class="g" x="250.247"/><rect class="g" x="251.953"/><rect class="g" x="253.658"/><rect class="g" x="255.364"/><rect class="w" x="257.069"/><rect class="g" x="258.775"/><rect class="g" x="260.481"/><rect class="g" x="262.186"/><rect class="w" x="263.892"/><rect class="g" x="265.597"/><rect class="g" x="267.303"/><rect class="g" x="269.009"/><rect class="g" x="270.714"/><rect class="g" x="272.42"/><rect class="g" x="274.125"/><rect class="g" x="275.831"/><rect class="g" x="277.536"/><rect class="g" x="279.242"/><rect class="g" x="280.948"/><rect class="g" x="282.653"/><rect class="g" x="284.359"/><rect class="g" x="286.064"/><rect class="g" x="287.77"/><rect class="g" x="289.476"/><rect class="g" x="291.181"/><rect class="g" x="292.887"/><rect class="w" x="294.592"/><rect class="g" x="296.298"/><rect class="g" x="298.004"/><rect class="g" x="299.709"/><rect class="g" x="301.415"/><rect class="g" x="303.12"/><rect class="g" x="304.826"/><rect class="g" x="306.532"/><rect class="g" x="308.237"/><rect class="g" x="309.943"/><rect class="g" x="311.648"/><rect class="g" x="313.354"/><rect class="g" x="315.059"/><rect class="g" x="316.765"/><rect class="g" x="318.471"/><rect class="g" x="320.176"/><rect class="g" x="321.882"/><rect class="g" x="323.587"/><rect class="g" x="325.293"/><rect class="g" x="326.999"/><rect class="g" x="328.704"/><rect class="g" x="330.41"/><rect class="g" x="332.115"/><rect class="g" x="333.821"/><rect class="g" x="335.527"/><rect class="g" x="337.232"/><rect class="g" x="338.938"/><rect class="g" x="340.643"/><rect class="g" x="342.349"/><rect class="g" x="344.055"/><rect class="g" x="345.76"/><rect class="g" x="347.466"/><rect class="g" x="349.171"/><rect class="g" x="350.877"/><rect class="g" x="352.582"/><rect class="g" x="354.288"/><rect class="g" x="355.994"/><rect class="g" x="357.699"/><rect class="g" x="359.405"/><rect class="g" x="361.11"/><rect class="g" x="362.816"/><rect class="g" x="364.522"/><rect class="g" x="366.227"/><rect class="g" x="367.933"/><rect class="g" x="369.638"/><rect class="g" x="371.344"/><rect class="g" x="373.05"/><rect class="g" x="374.755"/><rect class="g" x="376.461"/><rect class="g" x="378.166"/><rect class="g" x="379.872"/><rect class="g" x="381.578"/><rect class="g" x="383.283"/><rect class="g" x="384.989"/><rect class="g" x="386.694"/><rect class="g" x="388.4"/><rect class="g" x="390.106"/><rect class="g" x="391.811"/><rect class="g" x="393.517"/><rect class="g" x="395.222"/><rect class="g" x="396.928"/><rect class="g" x="398.633"/><rect class="g" x="400.339"/><rect class="g" x="402.045"/><rect class="g" x="403.75"/><rect class="g" x="405.456"/><rect class="g" x="407.161"/><rect class="g" x="408.867"/><rect class="g" x="410.573"/><rect class="g" x="412.278"/><rect class="g" x="413.984"/><rect class="g" x="415.689"/><rect class="g" x="417.395"/><rect class="g" x="419.101"/><rect class="g" x="420.806"/><rect class="g" x="422.512"/><rect class="g" x="424.217"/><rect class="g" x="425.923"/><rect class="g" x="427.629"/><rect class="g" x="429.334"/><rect class="g" x="431.04"/><rect class="g" x="432.745"/><rect class="g" x="434.451"/><rect class="g" x="436.156"/><rect class="g" x="437.862"/><rect class="g" x="439.568"/><rect class="g" x="441.273"/><rect class="g" x="442.979"/><rect class="g" x="444.684"/><rect class="w" x="446.39"/><rect class="w" x="448.096"/><rect class="w" x="449.801"/><rect class="w" x="451.507"/><rect class="w" x="453.212"/><rect class="w" x="454.918"/><rect class="g" x="456.624"/><rect class="g" x="458.329"/><rect class="g" x="460.035"/><rect class="g" x="461.74"/><rect class="g" x="463.446"/><rect class="g" x="465.152"/><rect class="g" x="466.857"/><rect class="g" x="468.563"/><rect class="g" x="470.268"/><rect class="g" x="471.974"/><rect class="g" x="473.679"/><rect class="g" x="475.385"/><rect class="g" x="477.091"/><rect class="g" x="478.796"/><rect class="g" x="480.502"/><rect class="g" x="482.207"/><rect class="g" x="483.913"/><rect class="g" x="485.619"/><rect class="g" x="487.324"/><rect class="g" x="489.03"/><rect class="g" x="490.735"/><rect class="g" x="492.441"/><rect class="g" x="494.147"/><rect class="g" x="495.852"/><rect class="g" x="497.558"/><rect class="g" x="499.263"/><rect class="g" x="500.969"/><rect class="g" x="502.675"/><rect class="g" x="504.38"/><rect class="g" x="506.086"/><rect class="g" x="507.791"/><rect class="g" x="509.497"/><rect class="g" x="511.203"/><rect class="g" x="512.908"/><rect class="g" x="514.614"/><rect class="g" x="516.319"/><rect class="g" x="518.025"/><rect class="g" x="519.73"/><rect class="g" x="521.436"/><rect class="g" x="523.142"/><rect class="g" x="524.847"/><rect class="g" x="526.553"/><rect class="g" x="528.258"/><rect class="g" x="529.964"/><rect class="g" x="531.67"/><rect class="g" x="533.375"/><rect class="g" x="535.081"/><rect class="g" x="536.786"/><rect class="g" x="538.492"/><rect class="g" x="540.198"/><rect class="g" x="541.903"/><rect class="g" x="543.609"/><rect class="g" x="545.314"/><rect class="g" x="547.02"/><rect class="g" x="548.726"/><rect class="g" x="550.431"/><rect class="g" x="552.137"/><rect class="g" x="553.842"/><rect class="g" x="555.548"/><rect class="g" x="557.253"/><rect class="g" x="558.959"/><rect class="g" x="560.665"/><rect class="g" x="562.37"/><rect class="g" x="564.076"/><rect class="g" x="565.781"/><rect class="g" x="567.487"/><rect class="g" x="569.193"/><rect class="w" x="570.898"/><rect class="g" x="572.604"/><rect class="g" x="574.309"/><rect class="g" x="576.015"/><rect class="g" x="577.721"/><rect class="g" x="579.426"/><rect class="g" x="581.132"/><rect class="g" x="582.837"/><rect class="g" x="584.543"/><rect class="g" x="586.249"/><rect class="g" x="587.954"/><rect class="g" x="589.66"/><rect class="g" x="591.365"/><rect class="g" x="593.071"/><rect class="g" x="594.776"/><rect class="g" x="596.482"/><rect class="g" x="598.188"/><rect class="g" x="599.893"/><rect class="g" x="601.599"/><rect class="g" x="603.304"/><rect class="g" x="605.01"/><rect class="g" x="606.716"/><rect class="g" x="608.421"/><rect class="g" x="610.127"/><rect class="g" x="611.832"/><rect class="g" x="613.538"/><rect class="g" x="615.244"/><rect class="g" x="616.949"/><rect class="g" x="618.655"/><rect class="g" x="620.36"/><rect class="g" x="622.066"/><rect class="g" x="623.772"/><rect class="g" x="625.477"/><rect class="g" x="627.183"/><rect class="g" x="628.888"/><rect class="g" x="630.594"/><rect class="g" x="632.3"/><rect class="g" x="634.005"/><rect class="g" x="635.711"/><rect class="g" x="637.416"/><rect class="g" x="639.122"/><rect class="g" x="640.827"/><rect class="g" x="642.533"/><rect class="g" x="644.239"/><rect class="w" x="645.944"/><rect class="w" x="647.65"/><rect class="w" x="649.355"/><rect class="w" x="651.061"/><rect class="g" x="652.767"/><rect class="g" x="654.472"/><rect class="g" x="656.178"/><rect class="g" x="657.883"/><rect class="g" x="659.589"/><rect class="g" x="661.295"/><rect class="g" x="663"/><rect class="g" x="664.706"/><rect class="g" x="666.411"/><rect class="g" x="668.117"/><rect class="g" x="669.823"/><rect class="g" x="671.528"/><rect class="g" x="673.234"/><rect class="g" x="674.939"/><rect class="g" x="676.645"/><rect class="g" x="678.35"/><rect class="g" x="680.056"/><rect class="g" x="681.762"/><rect class="g" x="683.467"/><rect class="g" x="685.173"/><rect class="g" x="686.878"/><rect class="g" x="688.584"/><rect class="g" x="690.29"/><rect class="g" x="691.995"/><rect class="g" x="693.701"/><rect class="g" x="695.406"/><rect class="g" x="697.112"/><rect class="g" x="698.818"/><rect class="g" x="700.523"/><rect class="g" x="702.229"/><rect class="g" x="703.934"/><rect class="g" x="705.64"/><rect class="g" x="707.346"/><rect class="g" x="709.051"/><rect class="g" x="710.757"/><rect class="g" x="712.462"/><rect class="g" x="714.168"/><rect class="g" x="715.874"/><rect class="g" x="717.579"/><rect class="g" x="719.285"/><rect class="g" x="720.99"/><rect class="g" x="722.696"/><rect class="g" x="724.401"/><rect class="g" x="726.107"/><rect class="g" x="727.813"/><rect class="g" x="729.518"/><rect class="g" x="731.224"/><rect class="g" x="732.929"/><rect class="g" x="734.635"/><rect class="g" x="736.341"/><rect class="g" x="738.046"/><rect class="g" x="739.752"/><rect class="g" x="741.457"/><rect class="g" x="743.163"/><rect class="g" x="744.869"/><rect class="g" x="746.574"/><rect class="g" x="748.28"/><rect class="g" x="749.985"/><rect class="g" x="751.691"/><rect class="g" x="753.397"/><rect class="g" x="755.102"/><rect class="g" x="756.808"/><rect class="g" x="758.513"/><rect class="g" x="760.219"/><rect class="g" x="761.924"/><rect class="g" x="763.63"/><rect class="g" x="765.336"/><rect class="g" x="767.041"/><rect class="g" x="768.747"/><rect class="g" x="770.452"/><rect class="g" x="772.158"/><rect class="g" x="773.864"/><rect class="g" x="775.569"/><rect class="g" x="777.275"/><rect class="g" x="778.98"/><rect class="g" x="780.686"/><rect class="g" x="782.392"/><rect class="g" x="784.097"/><rect class="g" x="785.803"/><rect class="g" x="787.508"/><rect class="g" x="789.214"/><rect class="g" x="790.92"/><rect class="g" x="792.625"/><rect class="g" x="794.331"/><rect class="g" x="796.036"/><rect class="g" x="797.742"/><rect class="g" x="799.447"/><rect class="g" x="801.153"/><rect class="g" x="802.859"/><rect class="g" x="804.564"/><rect class="g" x="806.27"/><rect class="g" x="807.975"/><rect class="g" x="809.681"/><rect class="g" x="811.387"/><rect class="g" x="813.092"/><rect class="g" x="814.798"/><rect class="g" x="816.503"/><rect class="g" x="818.209"/><rect class="g" x="819.915"/><rect class="g" x="821.62"/><rect class="g" x="823.326"/><rect class="g" x="825.031"/><rect class="g" x="826.737"/><rect class="g" x="828.443"/><rect class="g" x="830.148"/><rect class="g" x="831.854"/><rect class="g" x="833.559"/><rect class="g" x="835.265"/><rect class="g" x="836.971"/><rect class="g" x="838.676"/><rect class="g" x="840.382"/><rect class="g" x="842.087"/><rect class="g" x="843.793"/><rect class="g" x="845.498"/><rect class="g" x="847.204"/><rect class="g" x="848.91"/><rect class="g" x="850.615"/><rect class="w" x="852.321"/><rect class="g" x="854.026"/><rect class="g" x="855.732"/><rect class="g" x="857.438"/><rect class="g" x="859.143"/><rect class="g" x="860.849"/><rect class="g" x="862.554"/><rect class="g" x="864.26"/><rect class="g" x="865.966"/><rect class="g" x="867.671"/><rect class="g" x="869.377"/><rect class="g" x="871.082"/><rect class="g" x="872.788"/><rect class="g" x="874.494"/><rect class="g" x="876.199"/><rect class="g" x="877.905"/><rect class="g" x="879.61"/><rect class="g" x="881.316"/><rect class="g" x="883.021"/><rect class="g" x="884.727"/><rect class="g" x="886.433"/><rect class="g" x="888.138"/><rect class="g" x="889.844"/><rect class="g" x="891.549"/><rect class="g" x="893.255"/><rect class="g" x="894.961"/><rect class="g" x="896.666"/><rect class="g" x="898.372"/><rect class="g" x="900.077"/><rect class="g" x="901.783"/><rect class="g" x="903.489"/><rect class="g" x="905.194"/><rect class="g" x="906.9"/><rect class="g" x="908.605"/><rect class="g" x="910.311"/><rect class="g" x="912.017"/><rect class="g" x="913.722"/><rect class="g" x="915.428"/><rect class="g" x="917.133"/><rect class="w" x="918.839"/><rect class="g" x="920.544"/><rect class="g" x="922.25"/><rect class="g" x="923.956"/><rect class="g" x="925.661"/><rect class="g" x="927.367"/><rect class="g" x="929.072"/><rect class="g" x="930.778"/><rect class="g" x="932.484"/><rect class="g" x="934.189"/><rect class="g" x="935.895"/><rect class="g" x="937.6"/><rect class="g" x="939.306"/><rect class="g" x="941.012"/><rect class="g" x="942.717"/><rect class="g" x="944.423"/><rect class="g" x="946.128"/><rect class="g" x="947.834"/><rect class="g" x="949.54"/><rect class="g" x="951.245"/><rect class="g" x="952.951"/><rect class="g" x="954.656"/><rect class="g" x="956.362"/><rect class="g" x="958.068"/><rect class="g" x="959.773"/><rect class="g" x="961.479"/><rect class="g" x="963.184"/><rect class="g" x="964.89"/><rect class="g" x="966.595"/><rect class="g" x="968.301"/><rect class="g" x="970.007"/><rect class="g" x="971.712"/><rect class="g" x="973.418"/><rect class="g" x="975.123"/><rect class="g" x="976.829"/><rect class="g" x="978.535"/><rect class="g" x="980.24"/><rect class="g" x="981.946"/><rect class="g" x="983.651"/><rect class="g" x="985.357"/><rect class="g" x="987.063"/><rect class="g" x="988.768"/><rect class="g" x="990.474"/><rect class="g" x="992.179"/><rect class="g" x="993.885"/><rect class="g" x="995.591"/><rect class="g" x="997.296"/><rect class="g" x="999.002"/><rect class="g" x="1000.707"/><rect class="g" x="1002.413"/><rect class="g" x="1004.118"/><rect class="g" x="1005.824"/><rect class="g" x="1007.53"/><rect class="g" x="1009.235"/><rect class="g" x="1010.941"/><rect class="g" x="1012.646"/><rect class="w" x="1014.352"/><rect class="g" x="1016.058"/><rect class="g" x="1017.763"/><rect class="g" x="1019.469"/><rect class="w" x="1021.174"/><rect class="g" x="1022.88"/><rect class="g" x="1024.586"/><rect class="g" x="1026.291"/><rect class="g" x="1027.997"/><rect class="g" x="1029.702"/><rect class="g" x="1031.408"/><rect class="g" x="1033.114"/><rect class="g" x="1034.819"/><rect class="g" x="1036.525"/><rect class="g" x="1038.23"/><rect class="g" x="1039.936"/><rect class="g" x="1041.641"/><rect class="g" x="1043.347"/><rect class="g" x="1045.053"/><rect class="g" x="1046.758"/><rect class="g" x="1048.464"/><rect class="g" x="1050.169"/><rect class="g" x="1051.875"/><rect class="g" x="1053.581"/><rect class="g" x="1055.286"/><rect class="g" x="1056.992"/><rect class="g" x="1058.697"/><rect class="g" x="1060.403"/><rect class="g" x="1062.109"/><rect class="g" x="1063.814"/><rect class="g" x="1065.52"/><rect class="g" x="1067.225"/><rect class="g" x="1068.931"/><rect class="g" x="1070.637"/><rect class="g" x="1072.342"/><rect class="g" x="1074.048"/><rect class="g" x="1075.753"/><rect class="g" x="1077.459"/><rect class="g" x="1079.165"/><rect class="g" x="1080.87"/><rect class="g" x="1082.576"/><rect class="g" x="1084.281"/><rect class="g" x="1085.987"/><rect class="g" x="1087.692"/><rect class="g" x="1089.398"/><rect class="g" x="1091.104"/><rect class="g" x="1092.809"/><rect class="g" x="1094.515"/><rect class="g" x="1096.22"/><rect class="g" x="1097.926"/><rect class="g" x="1099.632"/><rect class="g" x="1101.337"/><rect class="g" x="1103.043"/><rect class="g" x="1104.748"/><rect class="g" x="1106.454"/><rect class="g" x="1108.16"/><rect class="g" x="1109.865"/><rect class="g" x="1111.571"/><rect class="g" x="1113.276"/><rect class="g" x="1114.982"/><rect class="g" x="1116.688"/><rect class="g" x="1118.393"/><rect class="g" x="1120.099"/><rect class="g" x="1121.804"/><rect class="g" x="1123.51"/><rect class="g" x="1125.215"/><rect class="g" x="1126.921"/><rect class="g" x="1128.627"/><rect class="g" x="1130.332"/><rect class="g" x="1132.038"/><rect class="g" x="1133.743"/><rect class="g" x="1135.449"/><rect class="g" x="1137.155"/><rect class="g" x="1138.86"/><rect class="g" x="1140.566"/><rect class="g" x="1142.271"/><rect class="g" x="1143.977"/><rect class="g" x="1145.683"/><rect class="g" x="1147.388"/><rect class="g" x="1149.094"/><rect class="g" x="1150.799"/><rect class="g" x="1152.505"/><rect class="g" x="1154.211"/><rect class="g" x="1155.916"/><rect class="g" x="1157.622"/><rect class="g" x="1159.327"/><rect class="g" x="1161.033"/><rect class="g" x="1162.738"/><rect class="g" x="1164.444"/><rect class="g" x="1166.15"/><rect class="g" x="1167.855"/><rect class="g" x="1169.561"/><rect class="g" x="1171.266"/><rect class="g" x="1172.972"/><rect class="g" x="1174.678"/><rect class="g" x="1176.383"/><rect class="g" x="1178.089"/><rect class="g" x="1179.794"/>
</g></g>
<rect x="128.976" y="180.571" width="1052.697" height="0.347"/>
<rect x="128.976" y="253.848" width="1052.697" height="0.347"/>
<g clip-path="url(#r3)"><g class="k" transform="translate(0 249.021)">
<rect class="g" x="129.15"/><rect class="g" x="130.856"/><rect class="w" x="132.561"/><rect class="g" x="134.267"/><rect class="g" x="135.972"/><rect class="g" x="137.678"/><rect class="g" x="139.384"/><rect class="g" x="141.089"/><rect class="g" x="142.795"/><rect class="w" x="144.5"/><rect class="w" x="146.206"/><rect class="g" x="147.912"/><rect class="w" x="149.617"/><rect class="g" x="151.323"/><rect class="w" x="153.028"/><rect class="w" x="154.734"/><rect class="g" x="156.439"/><rect class="g" x="158.145"/><rect class="g" x="159.851"/><rect class="g" x="161.556"/><rect class="g" x="163.262"/><rect class="g" x="164.967"/><rect class="w" x="166.673"/><rect class="g" x="168.379"/><rect class="g" x="170.084"/><rect class="g" x="171.79"/><rect class="w" x="173.495"/><rect class="w" x="175.201"/><rect class="g" x="176.907"/><rect class="g" x="178.612"/><rect class="g" x="180.318"/><rect class="g" x="182.023"/><rect class="g" x="183.729"/><rect class="w" x="185.435"/><rect class="g" x="187.14"/><rect class="g" x="188.846"/><rect class="w" x="190.551"/><rect class="g" x="192.257"/><rect class="w" x="193.962"/><rect class="g" x="195.668"/><rect class="g" x="197.374"/><rect class="g" x="199.079"/><rect class="w" x="200.785"/><rect class="g" x="202.49"/><rect class="g" x="204.196"/><rect class="w" x="205.902"/><rect class="g" x="207.607"/><rect class="g" x="209.313"/><rect class="w" x="211.018"/><rect class="g" x="212.724"/><rect class="g" x="214.43"/><rect class="g" x="216.135"/><rect class="w" x="217.841"/><rect class="w" x="219.546"/><rect class="g" x="221.252"/><rect class="w" x="222.958"/><rect class="g" x="224.663"/><rect class="g" x="226.369"/><rect class="g" x="228.074"/><rect class="g" x="229.78"/><rect class="w" x="231.485"/><rect class="w" x="233.191"/><rect class="w" x="234.897"/><rect class="w" x="236.602"/><rect class="w" x="238.308"/><rect class="w" x="240.013"/><rect class="w" x="241.719"/><rect class="w" x="243.425"/><rect class="w" x="245.13"/><rect class="w" x="246.836"/><rect class="w" x="248.541"/><rect class="w" x="250.247"/><rect class="w" x="251.953"/><rect class="w" x="253.658"/><rect class="w" x="255.364"/><rect class="w" x="257.069"/><rect class="w" x="258.775"/><rect class="w" x="260.481"/><rect class="w" x="262.186"/><rect class="w" x="263.892"/><rect class="w" x="265.597"/><rect class="w" x="267.303"/><rect class="w" x="269.009"/><rect class="w" x="270.714"/><rect class="w" x="272.42"/><rect class="w" x="274.125"/><rect class="w" x="275.831"/><rect class="w" x="277.536"/><rect class="w" x="279.242"/><rect class="w" x="280.948"/><rect class="w" x="282.653"/><rect class="g" x="284.359"/><rect class="g" x="286.064"/><rect class="g" x="287.77"/><rect class="g" x="289.476"/><rect class="g" x="291.181"/><rect class="g" x="292.887"/><rect class="g" x="294.592"/><rect class="g" x="296.298"/><rect class="g" x="298.004"/><rect class="g" x="299.709"/><rect class="g" x="301.415"/><rect class="w" x="303.12"/><rect class="g" x="304.826"/><rect class="g" x="306.532"/><rect class="g" x="308.237"/><rect class="w" x="309.943"/><rect class="w" x="311.648"/><rect class="g" x="313.354"/><rect class="g" x="315.059"/><rect class="w" x="316.765"/><rect class="g" x="318.471"/><rect class="g" x="320.176"/><rect class="g" x="321.882"/><rect class="g" x="323.587"/><rect class="g" x="325.293"/><rect class="g" x="326.999"/><rect class="w" x="328.704"/><rect class="g" x="330.41"/><rect class="g" x="332.115"/><rect class="w" x="333.821"/><rect class="w" x="335.527"/><rect class="w" x="337.232"/><rect class="g" x="338.938"/><rect class="w" x="340.643"/><rect class="g" x="342.349"/><rect class="w" x="344.055"/><rect class="w" x="345.76"/><rect class="w" x="347.466"/><rect class="w" x="349.171"/><rect class="w" x="350.877"/><rect class="w" x="352.582"/><rect class="w" x="354.288"/><rect class="w" x="355.994"/><rect class="w" x="357.699"/><rect class="w" x="359.405"/><rect class="w" x="361.11"/><rect class="g" x="362.816"/><rect class="g" x="364.522"/><rect class="w" x="366.227"/><rect class="w" x="367.933"/><rect class="w" x="369.638"/><rect class="w" x="371.344"/><rect class="w" x="373.05"/><rect class="w" x="374.755"/><rect class="w" x="376.461"/><rect class="w" x="378.166"/><rect class="w" x="379.872"/><rect class="w" x="381.578"/><rect class="w" x="383.283"/><rect class="w" x="384.989"/><rect class="w" x="386.694"/><rect class="g" x="388.4"/><rect class="w" x="390.106"/><rect class="w" x="391.811"/><rect class="w" x="393.517"/><rect class="w" x="395.222"/><rect class="w" x="396.928"/><rect class="w" x="398.633"/><rect class="w" x="400.339"/><rect class="w" x="402.045"/><rect class="g" x="403.75"/><rect class="g" x="405.456"/><rect class="w" x="407.161"/><rect class="w" x="408.867"/><rect class="w" x="410.573"/><rect class="w" x="412.278"/><rect class="g" x="413.984"/><rect class="w" x="415.689"/><rect class="w" x="417.395"/><rect class="w" x="419.101"/><rect class="w" x="420.806"/><rect class="w" x="422.512"/><rect class="w" x="424.217"/><rect class="w" x="425.923"/><rect class="w" x="427.629"/><rect class="w" x="429.334"/><rect class="w" x="431.04"/><rect class="w" x="432.745"/><rect class="w" x="434.451"/><rect class="w" x="436.156"/><rect class="w" x="437.862"/><rect class="w" x="439.568"/><rect class="w" x="441.273"/><rect class="w" x="442.979"/><rect class="g" x="444.684"/><rect class="w" x="446.39"/><rect class="w" x="448.096"/><rect class="w" x="449.801"/><rect class="w" x="451.507"/><rect class="w" x="453.212"/><rect class="w" x="454.918"/><rect class="w" x="456.624"/><rect class="w" x="458.329"/><rect class="w" x="460.035"/><rect class="w" x="461.74"/><rect class="w" x="463.446"/><rect class="w" x="465.152"/><rect class="w" x="466.857"/><rect class="g" x="468.563"/><rect class="g" x="470.268"/><rect class="g" x="471.974"/><rect class="g" x="473.679"/><rect class="g" x="475.385"/><rect class="g" x="477.091"/><rect class="g" x="478.796"/><rect class="g" x="480.502"/><rect class="g" x="482.207"/><rect class="g" x="483.913"/><rect class="g" x="485.619"/><rect class="g" x="487.324"/><rect class="g" x="489.03"/><rect class="g" x="490.735"/><rect class="g" x="492.441"/><rect class="g" x="494.147"/><rect class="g" x="495.852"/><rect class="g" x="497.558"/><rect class="g" x="499.263"/><rect class="g" x="500.969"/><rect class="g" x="502.675"/><rect class="g" x="504.38"/><rect class="g" x="506.086"/><rect class="g" x="507.791"/><rect class="g" x="509.497"/><rect class="g" x="511.203"/><rect class="g" x="512.908"/><rect class="g" x="514.614"/><rect class="g" x="516.319"/><rect class="g" x="518.025"/><rect class="g" x="519.73"/><rect class="g" x="521.436"/><rect class="g" x="523.142"/><rect class="g" x="524.847"/><rect class="g" x="526.553"/><rect class="g" x="528.258"/><rect class="g" x="529.964"/><rect class="g" x="531.67"/><rect class="g" x="533.375"/><rect class="g" x="535.081"/><rect class="g" x="536.786"/><rect class="g" x="538.492"/><rect class="g" x="540.198"/><rect class="g" x="541.903"/><rect class="g" x="543.609"/><rect class="g" x="545.314"/><rect class="g" x="547.02"/><rect class="g" x="548.726"/><rect class="g" x="550.431"/><rect class="g" x="552.137"/><rect class="g" x="553.842"/><rect class="g" x="555.548"/><rect class="g" x="557.253"/><rect class="g" x="558.959"/><rect class="g" x="560.665"/><rect class="g" x="562.37"/><rect class="g" x="564.076"/><rect class="g" x="565.781"/><rect class="g" x="567.487"/><rect class="g" x="569.193"/><rect class="g" x="570.898"/><rect class="w" x="572.604"/><rect class="w" x="574.309"/><rect class="w" x="576.015"/><rect class="w" x="577.721"/><rect class="w" x="579.426"/><rect class="w" x="581.132"/><rect class="w" x="582.837"/><rect class="w" x="584.543"/><rect class="w" x="586.249"/><rect class="w" x="587.954"/><rect class="w" x="589.66"/><rect class="w" x="591.365"/><rect class="w" x="593.071"/><rect class="w" x="594.776"/><rect class="w" x="596.482"/><rect class="w" x="598.188"/><rect class="w" x="599.893"/><rect class="w" x="601.599"/><rect class="w" x="603.304"/><rect class="w" x="605.01"/><rect class="w" x="606.716"/><rect class="w" x="608.421"/><rect class="w" x="610.127"/><rect class="w" x="611.832"/><rect class="w" x="613.538"/><rect class="w" x="615.244"/><rect class="w" x="616.949"/><rect class="w" x="618.655"/><rect class="w" x="620.36"/><rect class="w" x="622.066"/><rect class="w" x="623.772"/><rect class="w" x="625.477"/><rect class="w" x="627.183"/><rect class="w" x="628.888"/><rect class="w" x="630.594"/><rect class="w" x="632.3"/><rect class="w" x="634.005"/><rect class="w" x="635.711"/><rect class="w" x="637.416"/><rect class="w" x="639.122"/><rect class="w" x="640.827"/><rect class="w" x="642.533"/><rect class="w" x="644.239"/><rect class="w" x="645.944"/><rect class="w" x="647.65"/><rect class="w" x="649.355"/><rect class="w" x="651.061"/><rect class="w" x="652.767"/><rect class="w" x="654.472"/><rect class="w" x="656.178"/><rect class="w" x="657.883"/><rect class="w" x="659.589"/><rect class="w" x="661.295"/><rect class="w" x="663"/><rect class="w" x="664.706"/><rect class="w" x="666.411"/><rect class="w" x="668.117"/><rect class="g" x="669.823"/><rect class="w" x="671.528"/><rect class="w" x="673.234"/><rect class="w" x="674.939"/><rect class="w" x="676.645"/><rect class="w" x="678.35"/><rect class="w" x="680.056"/><rect class="w" x="681.762"/><rect class="w" x="683.467"/><rect class="w" x="685.173"/><rect class="w" x="686.878"/><rect class="w" x="688.584"/><rect class="w" x="690.29"/><rect class="g" x="691.995"/><rect class="g" x="693.701"/><rect class="g" x="695.406"/><rect class="g" x="697.112"/><rect class="g" x="698.818"/><rect class="g" x="700.523"/><rect class="g" x="702.229"/><rect class="g" x="703.934"/><rect class="g" x="705.64"/><rect class="g" x="707.346"/><rect class="g" x="709.051"/><rect class="g" x="710.757"/><rect class="g" x="712.462"/><rect class="g" x="714.168"/><rect class="g" x="715.874"/><rect class="g" x="717.579"/><rect class="g" x="719.285"/><rect class="g" x="720.99"/><rect class="g" x="722.696"/><rect class="g" x="724.401"/><rect class="g" x="726.107"/><rect class="g" x="727.813"/><rect class="g" x="729.518"/><rect class="g" x="731.224"/><rect class="g" x="732.929"/><rect class="g" x="734.635"/><rect class="g" x="736.341"/><rect class="g" x="738.046"/><rect class="g" x="739.752"/><rect class="g" x="741.457"/><rect class="g" x="743.163"/><rect class="g" x="744.869"/><rect class="g" x="746.574"/><rect class="g" x="748.28"/><rect class="g" x="749.985"/><rect class="g" x="751.691"/><rect class="g" x="753.397"/><rect class="g" x="755.102"/><rect class="g" x="756.808"/><rect class="g" x="758.513"/><rect class="g" x="760.219"/><rect class="g" x="761.924"/><rect class="g" x="763.63"/><rect class="g" x="765.336"/><rect class="g" x="767.041"/><rect class="g" x="768.747"/><rect class="g" x="770.452"/><rect class="g" x="772.158"/><rect class="g" x="773.864"/><rect class="g" x="775.569"/><rect class="g" x="777.275"/><rect class="g" x="778.98"/><rect class="g" x="780.686"/><rect class="g" x="782.392"/><rect class="g" x="784.097"/><rect class="g" x="785.803"/><rect class="g" x="787.508"/><rect class="g" x="789.214"/><rect class="g" x="790.92"/><rect class="g" x="792.625"/><rect class="g" x="794.331"/><rect class="g" x="796.036"/><rect class="g" x="797.742"/><rect class="g" x="799.447"/><rect class="g" x="801.153"/><rect class="g" x="802.859"/><rect class="g" x="804.564"/><rect class="g" x="806.27"/><rect class="g" x="807.975"/><rect class="g" x="809.681"/><rect class="g" x="811.387"/><rect class="g" x="813.092"/><rect class="g" x="814.798"/><rect class="g" x="816.503"/><rect class="g" x="818.209"/><rect class="g" x="819.915"/><rect class="g" x="821.62"/><rect class="g" x="823.326"/><rect class="g" x="825.031"/><rect class="g" x="826.737"/><rect class="g" x="828.443"/><rect class="g" x="830.148"/><rect class="w" x="831.854"/><rect class="g" x="833.559"/><rect class="g" x="835.265"/><rect class="g" x="836.971"/><rect class="g" x="838.676"/><rect class="g" x="840.382"/><rect class="g" x="842.087"/><rect class="g" x="843.793"/><rect class="g" x="845.498"/><rect class="g" x="847.204"/><rect class="g" x="848.91"/><rect class="g" x="850.615"/><rect class="g" x="852.321"/><rect class="g" x="854.026"/><rect class="g" x="855.732"/><rect class="g" x="857.438"/><rect class="g" x="859.143"/><rect class="g" x="860.849"/><rect class="g" x="862.554"/><rect class="g" x="864.26"/><rect class="g" x="865.966"/><rect class="g" x="867.671"/><rect class="g" x="869.377"/><rect class="g" x="871.082"/><rect class="g" x="872.788"/><rect class="g" x="874.494"/><rect class="g" x="876.199"/><rect class="g" x="877.905"/><rect class="g" x="879.61"/><rect class="g" x="881.316"/><rect class="g" x="883.021"/><rect class="g" x="884.727"/><rect class="g" x="886.433"/><rect class="g" x="888.138"/><rect class="g" x="889.844"/><rect class="g" x="891.549"/><rect class="g" x="893.255"/><rect class="g" x="894.961"/><rect class="g" x="896.666"/><rect class="g" x="898.372"/><rect class="g" x="900.077"/><rect class="g" x="901.783"/><rect class="g" x="903.489"/><rect class="g" x="905.194"/><rect class="g" x="906.9"/><rect class="g" x="908.605"/><rect class="g" x="910.311"/><rect class="g" x="912.017"/><rect class="g" x="913.722"/><rect class="g" x="915.428"/><rect class="g" x="917.133"/><rect class="g" x="918.839"/><rect class="g" x="920.544"/><rect class="g" x="922.25"/><rect class="g" x="923.956"/><rect class="g" x="925.661"/><rect class="g" x="927.367"/><rect class="g" x="929.072"/><rect class="g" x="930.778"/><rect class="g" x="932.484"/><rect class="g" x="934.189"/><rect class="g" x="935.895"/><rect class="g" x="937.6"/><rect class="g" x="939.306"/><rect class="g" x="941.012"/><rect class="g" x="942.717"/><rect class="g" x="944.423"/><rect class="g" x="946.128"/><rect class="g" x="947.834"/><rect class="g" x="949.54"/><rect class="g" x="951.245"/><rect class="g" x="952.951"/><rect class="g" x="954.656"/><rect class="g" x="956.362"/><rect class="g" x="958.068"/><rect class="g" x="959.773"/><rect class="g" x="961.479"/><rect class="g" x="963.184"/><rect class="g" x="964.89"/><rect class="g" x="966.595"/><rect class="g" x="968.301"/><rect class="g" x="970.007"/><rect class="g" x="971.712"/><rect class="g" x="973.418"/><rect class="g" x="975.123"/><rect class="g" x="976.829"/><rect class="g" x="978.535"/><rect class="g" x="980.24"/><rect class="g" x="981.946"/><rect class="g" x="983.651"/><rect class="g" x="985.357"/><rect class="g" x="987.063"/><rect class="g" x="988.768"/><rect class="g" x="990.474"/><rect class="g" x="992.179"/><rect class="g" x="993.885"/><rect class="g" x="995.591"/><rect class="g" x="997.296"/><rect class="g" x="999.002"/><rect class="g" x="1000.707"/><rect class="g" x="1002.413"/><rect class="g" x="1004.118"/><rect class="g" x="1005.824"/><rect class="g" x="1007.53"/><rect class="g" x="1009.235"/><rect class="g" x="1010.941"/><rect class="g" x="1012.646"/><rect class="g" x="1014.352"/><rect class="g" x="1016.058"/><rect class="g" x="1017.763"/><rect class="g" x="1019.469"/><rect class="g" x="1021.174"/><rect class="g" x="1022.88"/><rect class="g" x="1024.586"/><rect class="g" x="1026.291"/><rect class="g" x="1027.997"/><rect class="g" x="1029.702"/><rect class="g" x="1031.408"/><rect class="g" x="1033.114"/><rect class="g" x="1034.819"/><rect class="g" x="1036.525"/><rect class="g" x="1038.23"/><rect class="g" x="1039.936"/><rect class="g" x="1041.641"/><rect class="g" x="1043.347"/><rect class="g" x="1045.053"/><rect class="g" x="1046.758"/><rect class="g" x="1048.464"/><rect class="g" x="1050.169"/><rect class="g" x="1051.875"/><rect class="g" x="1053.581"/><rect class="g" x="1055.286"/><rect class="g" x="1056.992"/><rect class="g" x="1058.697"/><rect class="g" x="1060.403"/><rect class="g" x="1062.109"/><rect class="g" x="1063.814"/><rect class="g" x="1065.52"/><rect class="g" x="1067.225"/><rect class="g" x="1068.931"/><rect class="g" x="1070.637"/><rect class="g" x="1072.342"/><rect class="g" x="1074.048"/><rect class="g" x="1075.753"/><rect class="g" x="1077.459"/><rect class="g" x="1079.165"/><rect class="g" x="1080.87"/><rect class="g" x="1082.576"/><rect class="g" x="1084.281"/><rect class="g" x="1085.987"/><rect class="g" x="1087.692"/><rect class="g" x="1089.398"/><rect class="g" x="1091.104"/><rect class="g" x="1092.809"/><rect class="g" x="1094.515"/><rect class="g" x="1096.22"/><rect class="g" x="1097.926"/><rect class="g" x="1099.632"/><rect class="g" x="1101.337"/><rect class="g" x="1103.043"/><rect class="g" x="1104.748"/><rect class="g" x="1106.454"/><rect class="g" x="1108.16"/><rect class="g" x="1109.865"/><rect class="g" x="1111.571"/><rect class="g" x="1113.276"/><rect class="g" x="1114.982"/><rect class="g" x="1116.688"/><rect class="g" x="1118.393"/><rect class="g" x="1120.099"/><rect class="g" x="1121.804"/><rect class="g" x="1123.51"/><rect class="g" x="1125.215"/><rect class="g" x="1126.921"/><rect class="g" x="1128.627"/><rect class="g" x="1130.332"/><rect class="g" x="1132.038"/><rect class="g" x="1133.743"/><rect class="g" x="1135.449"/><rect class="g" x="1137.155"/><rect class="g" x="1138.86"/><rect class="g" x="1140.566"/><rect class="g" x="1142.271"/><rect class="g" x="1143.977"/><rect class="g" x="1145.683"/><rect class="g" x="1147.388"/><rect class="g" x="1149.094"/><rect class="g" x="1150.799"/><rect class="g" x="1152.505"/><rect class="g" x="1154.211"/><rect class="g" x="1155.916"/><rect class="g" x="1157.622"/><rect class="g" x="1159.327"/><rect class="g" x="1161.033"/><rect class="g" x="1162.738"/><rect class="g" x="1164.444"/><rect class="g" x="1166.15"/><rect class="g" x="1167.855"/><rect class="g" x="1169.561"/><rect class="g" x="1171.266"/><rect class="g" x="1172.972"/><rect class="g" x="1174.678"/><rect class="g" x="1176.383"/><rect class="g" x="1178.089"/><rect class="g" x="1179.794"/>
</g></g>
<rect x="128.976" y="253.848" width="1052.697" height="0.347"/>
<rect x="128.976" y="327.125" width="1052.697" height="0.347"/>
<g clip-path="url(#r4)"><g class="k" transform="translate(0 322.299)">
<rect class="w" x="129.15"/><rect class="g" x="130.856"/><rect class="w" x="132.561"/><rect class="w" x="134.267"/><rect class="w" x="135.972"/><rect class="w" x="137.678"/><rect class="w" x="139.384"/><rect class="w" x="141.089"/><rect class="w" x="142.795"/><rect class="w" x="144.5"/><rect class="w" x="146.206"/><rect class="w" x="147.912"/><rect class="w" x="149.617"/><rect class="w" x="151.323"/><rect class="w" x="153.028"/><rect class="w" x="154.734"/><rect class="w" x="156.439"/><rect class="w" x="158.145"/><rect class="g" x="159.851"/><rect class="w" x="161.556"/><rect class="w" x="163.262"/><rect class="w" x="164.967"/><rect class="w" x="166.673"/><rect class="w" x="168.379"/><rect class="w" x="170.084"/><rect class="g" x="171.79"/><rect class="w" x="173.495"/><rect class="w" x="175.201"/><rect class="w" x="176.907"/><rect class="w" x="178.612"/><rect class="g" x="180.318"/><rect class="w" x="182.023"/><rect class="w" x="183.729"/><rect class="w" x="185.435"/><rect class="w" x="187.14"/><rect class="w" x="188.846"/><rect class="w" x="190.551"/><rect class="w" x="192.257"/><rect class="w" x="193.962"/><rect class="w" x="195.668"/><rect class="w" x="197.374"/><rect class="w" x="199.079"/><rect class="w" x="200.785"/><rect class="w" x="202.49"/><rect class="w" x="204.196"/><rect class="w" x="205.902"/><rect class="w" x="207.607"/><rect class="w" x="209.313"/><rect class="w" x="211.018"/><rect class="w" x="212.724"/><rect class="w" x="214.43"/><rect class="w" x="216.135"/><rect class="w" x="217.841"/><rect class="w" x="219.546"/><rect class="w" x="221.252"/><rect class="w" x="222.958"/><rect class="w" x="224.663"/><rect class="w" x="226.369"/><rect class="w" x="228.074"/><rect class="w" x="229.78"/><rect class="w" x="231.485"/><rect class="w" x="233.191"/><rect class="w" x="234.897"/><rect class="w" x="236.602"/><rect class="w" x="238.308"/><rect class="w" x="240.013"/><rect class="w" x="241.719"/><rect class="w" x="243.425"/><rect class="w" x="245.13"/><rect class="w" x="246.836"/><rect class="w" x="248.541"/><rect class="w" x="250.247"/><rect class="w" x="251.953"/><rect class="w" x="253.658"/><rect class="w" x="255.364"/><rect class="w" x="257.069"/><rect class="w" x="258.775"/><rect class="w" x="260.481"/><rect class="w" x="262.186"/><rect class="w" x="263.892"/><rect class="w" x="265.597"/><rect class="w" x="267.303"/><rect class="w" x="269.009"/><rect class="w" x="270.714"/><rect class="w" x="272.42"/><rect class="w" x="274.125"/><rect class="w" x="275.831"/><rect class="w" x="277.536"/><rect class="w" x="279.242"/><rect class="w" x="280.948"/><rect class="w" x="282.653"/><rect class="g" x="284.359"/><rect class="g" x="286.064"/><rect class="g" x="287.77"/><rect class="g" x="289.476"/><rect class="g" x="291.181"/><rect class="g" x="292.887"/><rect class="w" x="294.592"/><rect class="g" x="296.298"/><rect class="g" x="298.004"/><rect class="g" x="299.709"/><rect class="g" x="301.415"/><rect class="w" x="303.12"/><rect class="g" x="304.826"/><rect class="g" x="306.532"/><rect class="g" x="308.237"/><rect class="w" x="309.943"/><rect class="g" x="311.648"/><rect class="w" x="313.354"/><rect class="g" x="315.059"/><rect class="w" x="316.765"/><rect class="g" x="318.471"/><rect class="g" x="320.176"/><rect class="g" x="321.882"/><rect class="g" x="323.587"/><rect class="w" x="325.293"/><rect class="g" x="326.999"/><rect class="w" x="328.704"/><rect class="w" x="330.41"/><rect class="w" x="332.115"/><rect class="w" x="333.821"/><rect class="w" x="335.527"/><rect class="g" x="337.232"/><rect class="g" x="338.938"/><rect class="g" x="340.643"/><rect class="g" x="342.349"/><rect class="w" x="344.055"/><rect class="g" x="345.76"/><rect class="g" x="347.466"/><rect class="w" x="349.171"/><rect class="w" x="350.877"/><rect class="w" x="352.582"/><rect class="w" x="354.288"/><rect class="g" x="355.994"/><rect class="g" x="357.699"/><rect class="g" x="359.405"/><rect class="g" x="361.11"/><rect class="g" x="362.816"/><rect class="g" x="364.522"/><rect class="g" x="366.227"/><rect class="g" x="367.933"/><rect class="w" x="369.638"/><rect class="w" x="371.344"/><rect class="w" x="373.05"/><rect class="g" x="374.755"/><rect class="w" x="376.461"/><rect class="w" x="378.166"/><rect class="g" x="379.872"/><rect class="g" x="381.578"/><rect class="g" x="383.283"/><rect class="g" x="384.989"/><rect class="g" x="386.694"/><rect class="g" x="388.4"/><rect class="g" x="390.106"/><rect class="w" x="391.811"/><rect class="g" x="393.517"/><rect class="w" x="395.222"/><rect class="w" x="396.928"/><rect class="w" x="398.633"/><rect class="w" x="400.339"/><rect class="g" x="402.045"/><rect class="g" x="403.75"/><rect class="g" x="405.456"/><rect class="g" x="407.161"/><rect class="g" x="408.867"/><rect class="g" x="410.573"/><rect class="g" x="412.278"/><rect class="g" x="413.984"/><rect class="g" x="415.689"/><rect class="g" x="417.395"/><rect class="g" x="419.101"/><rect class="g" x="420.806"/><rect class="w" x="422.512"/><rect class="w" x="424.217"/><rect class="w" x="425.923"/><rect class="w" x="427.629"/><rect class="w" x="429.334"/><rect class="w" x="431.04"/><rect class="w" x="432.745"/><rect class="w" x="434.451"/><rect class="g" x="436.156"/><rect class="g" x="437.862"/><rect class="g" x="439.568"/><rect class="g" x="441.273"/><rect class="g" x="442.979"/><rect class="g" x="444.684"/><rect class="w" x="446.39"/><rect class="w" x="448.096"/><rect class="w" x="449.801"/><rect class="w" x="451.507"/><rect class="w" x="453.212"/><rect class="w" x="454.918"/><rect class="g" x="456.624"/><rect class="g" x="458.329"/><rect class="g" x="460.035"/><rect class="g" x="461.74"/><rect class="g" x="463.446"/><rect class="g" x="465.152"/><rect class="g" x="466.857"/><rect class="g" x="468.563"/><rect class="g" x="470.268"/><rect class="g" x="471.974"/><rect class="g" x="473.679"/><rect class="g" x="475.385"/><rect class="g" x="477.091"/><rect class="g" x="478.796"/><rect class="g" x="480.502"/><rect class="g" x="482.207"/><rect class="w" x="483.913"/><rect class="g" x="485.619"/><rect class="g" x="487.324"/><rect class="g" x="489.03"/><rect class="g" x="490.735"/><rect class="g" x="492.441"/><rect class="g" x="494.147"/><rect class="g" x="495.852"/><rect class="g" x="497.558"/><rect class="g" x="499.263"/><rect class="g" x="500.969"/><rect class="g" x="502.675"/><rect class="g" x="504.38"/><rect class="g" x="506.086"/><rect class="g" x="507.791"/><rect class="g" x="509.497"/><rect class="g" x="511.203"/><rect class="g" x="512.908"/><rect class="g" x="514.614"/><rect class="g" x="516.319"/><rect class="g" x="518.025"/><rect class="g" x="519.73"/><rect class="g" x="521.436"/><rect class="g" x="523.142"/><rect class="g" x="524.847"/><rect class="g" x="526.553"/><rect class="g" x="528.258"/><rect class="g" x="529.964"/><rect class="g" x="531.67"/><rect class="g" x="533.375"/><rect class="g" x="535.081"/><rect class="g" x="536.786"/><rect class="g" x="538.492"/><rect class="g" x="540.198"/><rect class="g" x="541.903"/><rect class="g" x="543.609"/><rect class="g" x="545.314"/><rect class="g" x="547.02"/><rect class="g" x="548.726"/><rect class="g" x="550.431"/><rect class="g" x="552.137"/><rect class="g" x="553.842"/><rect class="g" x="555.548"/><rect class="g" x="557.253"/><rect class="g" x="558.959"/><rect class="g" x="560.665"/><rect class="g" x="562.37"/><rect class="g" x="564.076"/><rect class="g" x="565.781"/><rect class="g" x="567.487"/><rect class="g" x="569.193"/><rect class="w" x="570.898"/><rect class="w" x="572.604"/><rect class="w" x="574.309"/><rect class="w" x="576.015"/><rect class="w" x="577.721"/><rect class="w" x="579.426"/><rect class="w" x="581.132"/><rect class="w" x="582.837"/><rect class="w" x="584.543"/><rect class="w" x="586.249"/><rect class="w" x="587.954"/><rect class="w" x="589.66"/><rect class="w" x="591.365"/><rect class="w" x="593.071"/><rect class="w" x="594.776"/><rect class="w" x="596.482"/><rect class="w" x="598.188"/><rect class="w" x="599.893"/><rect class="w" x="601.599"/><rect class="w" x="603.304"/><rect class="w" x="605.01"/><rect class="w" x="606.716"/><rect class="w" x="608.421"/><rect class="w" x="610.127"/><rect class="w" x="611.832"/><rect class="g" x="613.538"/><rect class="w" x="615.244"/><rect class="w" x="616.949"/><rect class="w" x="618.655"/><rect class="w" x="620.36"/><rect class="w" x="622.066"/><rect class="w" x="623.772"/><rect class="w" x="625.477"/><rect class="w" x="627.183"/><rect class="w" x="628.888"/><rect class="w" x="630.594"/><rect class="w" x="632.3"/><rect class="w" x="634.005"/><rect class="w" x="635.711"/><rect class="w" x="637.416"/><rect class="w" x="639.122"/><rect class="w" x="640.827"/><rect class="w" x="642.533"/><rect class="w" x="644.239"/><rect class="w" x="645.944"/><rect class="w" x="647.65"/><rect class="w" x="649.355"/><rect class="w" x="651.061"/><rect class="g" x="652.767"/><rect class="g" x="654.472"/><rect class="g" x="656.178"/><rect class="g" x="657.883"/><rect class="w" x="659.589"/><rect class="w" x="661.295"/><rect class="w" x="663"/><rect class="g" x="664.706"/><rect class="g" x="666.411"/><rect class="g" x="668.117"/><rect class="g" x="669.823"/><rect class="g" x="671.528"/><rect class="g" x="673.234"/><rect class="g" x="674.939"/><rect class="w" x="676.645"/><rect class="g" x="678.35"/><rect class="w" x="680.056"/><rect class="g" x="681.762"/><rect class="g" x="683.467"/><rect class="g" x="685.173"/><rect class="w" x="686.878"/><rect class="g" x="688.584"/><rect class="w" x="690.29"/><rect class="g" x="691.995"/><rect class="g" x="693.701"/><rect class="g" x="695.406"/><rect class="g" x="697.112"/><rect class="g" x="698.818"/><rect class="g" x="700.523"/><rect class="g" x="702.229"/><rect class="g" x="703.934"/><rect class="g" x="705.64"/><rect class="g" x="707.346"/><rect class="g" x="709.051"/><rect class="w" x="710.757"/><rect class="w" x="712.462"/><rect class="g" x="714.168"/><rect class="g" x="715.874"/><rect class="w" x="717.579"/><rect class="w" x="719.285"/><rect class="w" x="720.99"/><rect class="w" x="722.696"/><rect class="w" x="724.401"/><rect class="w" x="726.107"/><rect class="g" x="727.813"/><rect class="g" x="729.518"/><rect class="g" x="731.224"/><rect class="g" x="732.929"/><rect class="w" x="734.635"/><rect class="g" x="736.341"/><rect class="g" x="738.046"/><rect class="g" x="739.752"/><rect class="g" x="741.457"/><rect class="g" x="743.163"/><rect class="g" x="744.869"/><rect class="g" x="746.574"/><rect class="g" x="748.28"/><rect class="g" x="749.985"/><rect class="g" x="751.691"/><rect class="g" x="753.397"/><rect class="g" x="755.102"/><rect class="g" x="756.808"/><rect class="g" x="758.513"/><rect class="g" x="760.219"/><rect class="w" x="761.924"/><rect class="g" x="763.63"/><rect class="g" x="765.336"/><rect class="g" x="767.041"/><rect class="g" x="768.747"/><rect class="g" x="770.452"/><rect class="g" x="772.158"/><rect class="g" x="773.864"/><rect class="g" x="775.569"/><rect class="g" x="777.275"/><rect class="g" x="778.98"/><rect class="g" x="780.686"/><rect class="g" x="782.392"/><rect class="g" x="784.097"/><rect class="g" x="785.803"/><rect class="g" x="787.508"/><rect class="g" x="789.214"/><rect class="g" x="790.92"/><rect class="w" x="792.625"/><rect class="w" x="794.331"/><rect class="g" x="796.036"/><rect class="g" x="797.742"/><rect class="w" x="799.447"/><rect class="g" x="801.153"/><rect class="w" x="802.859"/><rect class="g" x="804.564"/><rect class="g" x="806.27"/><rect class="g" x="807.975"/><rect class="w" x="809.681"/><rect class="g" x="811.387"/><rect class="g" x="813.092"/><rect class="g" x="814.798"/><rect class="g" x="816.503"/><rect class="g" x="818.209"/><rect class="g" x="819.915"/><rect class="g" x="821.62"/><rect class="g" x="823.326"/><rect class="w" x="825.031"/><rect class="g" x="826.737"/><rect class="g" x="828.443"/><rect class="g" x="830.148"/><rect class="g" x="831.854"/><rect class="g" x="833.559"/><rect class="g" x="835.265"/><rect class="w" x="836.971"/><rect class="w" x="838.676"/><rect class="g" x="840.382"/><rect class="g" x="842.087"/><rect class="g" x="843.793"/><rect class="g" x="845.498"/><rect class="g" x="847.204"/><rect class="g" x="848.91"/><rect class="w" x="850.615"/><rect class="g" x="852.321"/><rect class="w" x="854.026"/><rect class="w" x="855.732"/><rect class="w" x="857.438"/><rect class="w" x="859.143"/><rect class="w" x="860.849"/><rect class="g" x="862.554"/><rect class="w" x="864.26"/><rect class="g" x="865.966"/><rect class="w" x="867.671"/><rect class="w" x="869.377"/><rect class="w" x="871.082"/><rect class="w" x="872.788"/><rect class="g" x="874.494"/><rect class="g" x="876.199"/><rect class="g" x="877.905"/><rect class="g" x="879.61"/><rect class="g" x="881.316"/><rect class="g" x="883.021"/><rect class="w" x="884.727"/><rect class="g" x="886.433"/><rect class="g" x="888.138"/><rect class="g" x="889.844"/><rect class="g" x="891.549"/><rect class="g" x="893.255"/><rect class="g" x="894.961"/><rect class="g" x="896.666"/><rect class="g" x="898.372"/><rect class="g" x="900.077"/><rect class="g" x="901.783"/><rect class="g" x="903.489"/><rect class="g" x="905.194"/><rect class="g" x="906.9"/><rect class="g" x="908.605"/><rect class="g" x="910.311"/><rect class="g" x="912.017"/><rect class="g" x="913.722"/><rect class="g" x="915.428"/><rect class="g" x="917.133"/><rect class="g" x="918.839"/><rect class="g" x="920.544"/><rect class="g" x="922.25"/><rect class="g" x="923.956"/><rect class="g" x="925.661"/><rect class="g" x="927.367"/><rect class="g" x="929.072"/><rect class="g" x="930.778"/><rect class="g" x="932.484"/><rect class="g" x="934.189"/><rect class="g" x="935.895"/><rect class="w" x="937.6"/><rect class="g" x="939.306"/><rect class="w" x="941.012"/><rect class="g" x="942.717"/><rect class="w" x="944.423"/><rect class="g" x="946.128"/><rect class="g" x="947.834"/><rect class="g" x="949.54"/><rect class="g" x="951.245"/><rect class="g" x="952.951"/><rect class="g" x="954.656"/><rect class="g" x="956.362"/><rect class="g" x="958.068"/><rect class="g" x="959.773"/><rect class="g" x="961.479"/><rect class="g" x="963.184"/><rect class="g" x="964.89"/><rect class="g" x="966.595"/><rect class="g" x="968.301"/><rect class="g" x="970.007"/><rect class="g" x="971.712"/><rect class="g" x="973.418"/><rect class="g" x="975.123"/><rect class="g" x="976.829"/><rect class="g" x="978.535"/><rect class="g" x="980.24"/><rect class="g" x="981.946"/><rect class="g" x="983.651"/><rect class="g" x="985.357"/><rect class="g" x="987.063"/><rect class="g" x="988.768"/><rect class="g" x="990.474"/><rect class="g" x="992.179"/><rect class="g" x="993.885"/><rect class="g" x="995.591"/><rect class="g" x="997.296"/><rect class="g" x="999.002"/><rect class="g" x="1000.707"/><rect class="g" x="1002.413"/><rect class="g" x="1004.118"/><rect class="g" x="1005.824"/><rect class="w" x="1007.53"/><rect class="g" x="1009.235"/><rect class="g" x="1010.941"/><rect class="g" x="1012.646"/><rect class="g" x="1014.352"/><rect class="g" x="1016.058"/><rect class="g" x="1017.763"/><rect class="g" x="1019.469"/><rect class="g" x="1021.174"/><rect class="w" x="1022.88"/><rect class="g" x="1024.586"/><rect class="g" x="1026.291"/><rect class="g" x="1027.997"/><rect class="g" x="1029.702"/><rect class="g" x="1031.408"/><rect class="g" x="1033.114"/><rect class="g" x="1034.819"/><rect class="g" x="1036.525"/><rect class="g" x="1038.23"/><rect class="g" x="1039.936"/><rect class="g" x="1041.641"/><rect class="g" x="1043.347"/><rect class="g" x="1045.053"/><rect class="g" x="1046.758"/><rect class="g" x="1048.464"/><rect class="g" x="1050.169"/><rect class="w" x="1051.875"/><rect class="g" x="1053.581"/><rect class="g" x="1055.286"/><rect class="w" x="1056.992"/><rect class="g" x="1058.697"/><rect class="g" x="1060.403"/><rect class="g" x="1062.109"/><rect class="g" x="1063.814"/><rect class="w" x="1065.52"/><rect class="g" x="1067.225"/><rect class="g" x="1068.931"/><rect class="g" x="1070.637"/><rect class="g" x="1072.342"/><rect class="w" x="1074.048"/><rect class="g" x="1075.753"/><rect class="g" x="1077.459"/><rect class="g" x="1079.165"/><rect class="g" x="1080.87"/><rect class="g" x="1082.576"/><rect class="g" x="1084.281"/><rect class="g" x="1085.987"/><rect class="g" x="1087.692"/><rect class="g" x="1089.398"/><rect class="g" x="1091.104"/><rect class="g" x="1092.809"/><rect class="g" x="1094.515"/><rect class="g" x="1096.22"/><rect class="g" x="1097.926"/><rect class="g" x="1099.632"/><rect class="g" x="1101.337"/><rect class="g" x="1103.043"/><rect class="g" x="1104.748"/><rect class="g" x="1106.454"/><rect class="g" x="1108.16"/><rect class="g" x="1109.865"/><rect class="g" x="1111.571"/><rect class="g" x="1113.276"/><rect class="g" x="1114.982"/><rect class="g" x="1116.688"/><rect class="g" x="1118.393"/><rect class="g" x="1120.099"/><rect class="g" x="1121.804"/><rect class="g" x="1123.51"/><rect class="g" x="1125.215"/><rect class="g" x="1126.921"/><rect class="g" x="1128.627"/><rect class="g" x="1130.332"/><rect class="g" x="1132.038"/><rect class="g" x="1133.743"/><rect class="g" x="1135.449"/><rect class="g" x="1137.155"/><rect class="g" x="1138.86"/><rect class="g" x="1140.566"/><rect class="g" x="1142.271"/><rect class="g" x="1143.977"/><rect class="g" x="1145.683"/><rect class="g" x="1147.388"/><rect class="g" x="1149.094"/><rect class="g" x="1150.799"/><rect class="g" x="1152.505"/><rect class="g" x="1154.211"/><rect class="g" x="1155.916"/><rect class="g" x="1157.622"/><rect class="g" x="1159.327"/><rect class="g" x="1161.033"/><rect class="g" x="1162.738"/><rect class="g" x="1164.444"/><rect class="g" x="1166.15"/><rect class="g" x="1167.855"/><rect class="g" x="1169.561"/><rect class="g" x="1171.266"/><rect class="g" x="1172.972"/><rect class="g" x="1174.678"/><rect class="g" x="1176.383"/><rect class="g" x="1178.089"/><rect class="g" x="1179.794"/>
</g></g>
<rect x="128.976" y="327.125" width="1052.697" height="0.347"/>
<rect x="128.976" y="400.402" width="1052.697" height="0.347"/>
<g clip-path="url(#r5)"><g class="k" transform="translate(0 395.576)">
<rect class="w" x="129.15"/><rect class="w" x="130.856"/><rect class="w" x="132.561"/><rect class="w" x="134.267"/><rect class="w" x="135.972"/><rect class="w" x="137.678"/><rect class="w" x="139.384"/><rect class="w" x="141.089"/><rect class="w" x="142.795"/><rect class="w" x="144.5"/><rect class="w" x="146.206"/><rect class="w" x="147.912"/><rect class="w" x="149.617"/><rect class="w" x="151.323"/><rect class="w" x="153.028"/><rect class="w" x="154.734"/><rect class="w" x="156.439"/><rect class="w" x="158.145"/><rect class="w" x="159.851"/><rect class="w" x="161.556"/><rect class="w" x="163.262"/><rect class="w" x="164.967"/><rect class="w" x="166.673"/><rect class="w" x="168.379"/><rect class="w" x="170.084"/><rect class="g" x="171.79"/><rect class="w" x="173.495"/><rect class="w" x="175.201"/><rect class="w" x="176.907"/><rect class="w" x="178.612"/><rect class="g" x="180.318"/><rect class="w" x="182.023"/><rect class="w" x="183.729"/><rect class="w" x="185.435"/><rect class="w" x="187.14"/><rect class="w" x="188.846"/><rect class="w" x="190.551"/><rect class="w" x="192.257"/><rect class="w" x="193.962"/><rect class="w" x="195.668"/><rect class="w" x="197.374"/><rect class="w" x="199.079"/><rect class="w" x="200.785"/><rect class="w" x="202.49"/><rect class="w" x="204.196"/><rect class="w" x="205.902"/><rect class="w" x="207.607"/><rect class="w" x="209.313"/><rect class="w" x="211.018"/><rect class="w" x="212.724"/><rect class="w" x="214.43"/><rect class="w" x="216.135"/><rect class="w" x="217.841"/><rect class="w" x="219.546"/><rect class="w" x="221.252"/><rect class="w" x="222.958"/><rect class="w" x="224.663"/><rect class="w" x="226.369"/><rect class="w" x="228.074"/><rect class="w" x="229.78"/><rect class="w" x="231.485"/><rect class="w" x="233.191"/><rect class="w" x="234.897"/><rect class="w" x="236.602"/><rect class="w" x="238.308"/><rect class="w" x="240.013"/><rect class="w" x="241.719"/><rect class="w" x="243.425"/><rect class="w" x="245.13"/><rect class="w" x="246.836"/><rect class="w" x="248.541"/><rect class="w" x="250.247"/><rect class="w" x="251.953"/><rect class="w" x="253.658"/><rect class="w" x="255.364"/><rect class="w" x="257.069"/><rect class="w" x="258.775"/><rect class="w" x="260.481"/><rect class="w" x="262.186"/><rect class="w" x="263.892"/><rect class="w" x="265.597"/><rect class="w" x="267.303"/><rect class="w" x="269.009"/><rect class="w" x="270.714"/><rect class="w" x="272.42"/><rect class="w" x="274.125"/><rect class="w" x="275.831"/><rect class="w" x="277.536"/><rect class="w" x="279.242"/><rect class="w" x="280.948"/><rect class="w" x="282.653"/><rect class="w" x="284.359"/><rect class="w" x="286.064"/><rect class="g" x="287.77"/><rect class="g" x="289.476"/><rect class="g" x="291.181"/><rect class="w" x="292.887"/><rect class="w" x="294.592"/><rect class="w" x="296.298"/><rect class="w" x="298.004"/><rect class="g" x="299.709"/><rect class="w" x="301.415"/><rect class="w" x="303.12"/><rect class="w" x="304.826"/><rect class="g" x="306.532"/><rect class="g" x="308.237"/><rect class="w" x="309.943"/><rect class="g" x="311.648"/><rect class="w" x="313.354"/><rect class="w" x="315.059"/><rect class="g" x="316.765"/><rect class="g" x="318.471"/><rect class="w" x="320.176"/><rect class="g" x="321.882"/><rect class="w" x="323.587"/><rect class="w" x="325.293"/><rect class="w" x="326.999"/><rect class="w" x="328.704"/><rect class="w" x="330.41"/><rect class="w" x="332.115"/><rect class="w" x="333.821"/><rect class="w" x="335.527"/><rect class="w" x="337.232"/><rect class="g" x="338.938"/><rect class="w" x="340.643"/><rect class="w" x="342.349"/><rect class="g" x="344.055"/><rect class="g" x="345.76"/><rect class="g" x="347.466"/><rect class="w" x="349.171"/><rect class="w" x="350.877"/><rect class="w" x="352.582"/><rect class="w" x="354.288"/><rect class="w" x="355.994"/><rect class="w" x="357.699"/><rect class="w" x="359.405"/><rect class="g" x="361.11"/><rect class="w" x="362.816"/><rect class="g" x="364.522"/><rect class="w" x="366.227"/><rect class="g" x="367.933"/><rect class="w" x="369.638"/><rect class="w" x="371.344"/><rect class="w" x="373.05"/><rect class="g" x="374.755"/><rect class="w" x="376.461"/><rect class="w" x="378.166"/><rect class="g" x="379.872"/><rect class="w" x="381.578"/><rect class="g" x="383.283"/><rect class="w" x="384.989"/><rect class="w" x="386.694"/><rect class="g" x="388.4"/><rect class="w" x="390.106"/><rect class="w" x="391.811"/><rect class="w" x="393.517"/><rect class="w" x="395.222"/><rect class="w" x="396.928"/><rect class="w" x="398.633"/><rect class="w" x="400.339"/><rect class="w" x="402.045"/><rect class="g" x="403.75"/><rect class="g" x="405.456"/><rect class="w" x="407.161"/><rect class="w" x="408.867"/><rect class="w" x="410.573"/><rect class="g" x="412.278"/><rect class="g" x="413.984"/><rect class="w" x="415.689"/><rect class="g" x="417.395"/><rect class="w" x="419.101"/><rect class="w" x="420.806"/><rect class="w" x="422.512"/><rect class="w" x="424.217"/><rect class="w" x="425.923"/><rect class="w" x="427.629"/><rect class="w" x="429.334"/><rect class="w" x="431.04"/><rect class="w" x="432.745"/><rect class="w" x="434.451"/><rect class="g" x="436.156"/><rect class="g" x="437.862"/><rect class="g" x="439.568"/><rect class="w" x="441.273"/><rect class="g" x="442.979"/><rect class="w" x="444.684"/><rect class="w" x="446.39"/><rect class="g" x="448.096"/><rect class="w" x="449.801"/><rect class="g" x="451.507"/><rect class="g" x="453.212"/><rect class="g" x="454.918"/><rect class="g" x="456.624"/><rect class="g" x="458.329"/><rect class="g" x="460.035"/><rect class="g" x="461.74"/><rect class="g" x="463.446"/><rect class="g" x="465.152"/><rect class="g" x="466.857"/><rect class="w" x="468.563"/><rect class="w" x="470.268"/><rect class="w" x="471.974"/><rect class="g" x="473.679"/><rect class="w" x="475.385"/><rect class="w" x="477.091"/><rect class="g" x="478.796"/><rect class="w" x="480.502"/><rect class="w" x="482.207"/><rect class="w" x="483.913"/><rect class="w" x="485.619"/><rect class="w" x="487.324"/><rect class="w" x="489.03"/><rect class="w" x="490.735"/><rect class="g" x="492.441"/><rect class="w" x="494.147"/><rect class="w" x="495.852"/><rect class="g" x="497.558"/><rect class="g" x="499.263"/><rect class="g" x="500.969"/><rect class="g" x="502.675"/><rect class="g" x="504.38"/><rect class="g" x="506.086"/><rect class="g" x="507.791"/><rect class="g" x="509.497"/><rect class="w" x="511.203"/><rect class="g" x="512.908"/><rect class="g" x="514.614"/><rect class="g" x="516.319"/><rect class="g" x="518.025"/><rect class="g" x="519.73"/><rect class="g" x="521.436"/><rect class="g" x="523.142"/><rect class="g" x="524.847"/><rect class="g" x="526.553"/><rect class="w" x="528.258"/><rect class="g" x="529.964"/><rect class="g" x="531.67"/><rect class="g" x="533.375"/><rect class="g" x="535.081"/><rect class="g" x="536.786"/><rect class="g" x="538.492"/><rect class="w" x="540.198"/><rect class="w" x="541.903"/><rect class="w" x="543.609"/><rect class="w" x="545.314"/><rect class="w" x="547.02"/><rect class="w" x="548.726"/><rect class="w" x="550.431"/><rect class="w" x="552.137"/><rect class="w" x="553.842"/><rect class="w" x="555.548"/><rect class="w" x="557.253"/><rect class="w" x="558.959"/><rect class="w" x="560.665"/><rect class="w" x="562.37"/><rect class="w" x="564.076"/><rect class="w" x="565.781"/><rect class="w" x="567.487"/><rect class="w" x="569.193"/><rect class="g" x="570.898"/><rect class="w" x="572.604"/><rect class="w" x="574.309"/><rect class="w" x="576.015"/><rect class="w" x="577.721"/><rect class="w" x="579.426"/><rect class="w" x="581.132"/><rect class="w" x="582.837"/><rect class="w" x="584.543"/><rect class="w" x="586.249"/><rect class="w" x="587.954"/><rect class="w" x="589.66"/><rect class="w" x="591.365"/><rect class="w" x="593.071"/><rect class="w" x="594.776"/><rect class="w" x="596.482"/><rect class="w" x="598.188"/><rect class="w" x="599.893"/><rect class="w" x="601.599"/><rect class="w" x="603.304"/><rect class="w" x="605.01"/><rect class="w" x="606.716"/><rect class="w" x="608.421"/><rect class="w" x="610.127"/><rect class="w" x="611.832"/><rect class="g" x="613.538"/><rect class="w" x="615.244"/><rect class="w" x="616.949"/><rect class="w" x="618.655"/><rect class="w" x="620.36"/><rect class="w" x="622.066"/><rect class="w" x="623.772"/><rect class="w" x="625.477"/><rect class="w" x="627.183"/><rect class="w" x="628.888"/><rect class="w" x="630.594"/><rect class="w" x="632.3"/><rect class="w" x="634.005"/><rect class="w" x="635.711"/><rect class="w" x="637.416"/><rect class="w" x="639.122"/><rect class="w" x="640.827"/><rect class="w" x="642.533"/><rect class="w" x="644.239"/><rect class="w" x="645.944"/><rect class="w" x="647.65"/><rect class="w" x="649.355"/><rect class="w" x="651.061"/><rect class="w" x="652.767"/><rect class="g" x="654.472"/><rect class="g" x="656.178"/><rect class="g" x="657.883"/><rect class="w" x="659.589"/><rect class="w" x="661.295"/><rect class="w" x="663"/><rect class="w" x="664.706"/><rect class="w" x="666.411"/><rect class="w" x="668.117"/><rect class="w" x="669.823"/><rect class="w" x="671.528"/><rect class="w" x="673.234"/><rect class="w" x="674.939"/><rect class="w" x="676.645"/><rect class="w" x="678.35"/><rect class="w" x="680.056"/><rect class="w" x="681.762"/><rect class="w" x="683.467"/><rect class="w" x="685.173"/><rect class="w" x="686.878"/><rect class="w" x="688.584"/><rect class="w" x="690.29"/><rect class="w" x="691.995"/><rect class="w" x="693.701"/><rect class="w" x="695.406"/><rect class="g" x="697.112"/><rect class="w" x="698.818"/><rect class="w" x="700.523"/><rect class="w" x="702.229"/><rect class="w" x="703.934"/><rect class="w" x="705.64"/><rect class="w" x="707.346"/><rect class="w" x="709.051"/><rect class="w" x="710.757"/><rect class="w" x="712.462"/><rect class="w" x="714.168"/><rect class="w" x="715.874"/><rect class="w" x="717.579"/><rect class="w" x="719.285"/><rect class="w" x="720.99"/><rect class="w" x="722.696"/><rect class="w" x="724.401"/><rect class="w" x="726.107"/><rect class="g" x="727.813"/><rect class="w" x="729.518"/><rect class="w" x="731.224"/><rect class="w" x="732.929"/><rect class="w" x="734.635"/><rect class="w" x="736.341"/><rect class="w" x="738.046"/><rect class="w" x="739.752"/><rect class="w" x="741.457"/><rect class="w" x="743.163"/><rect class="g" x="744.869"/><rect class="w" x="746.574"/><rect class="g" x="748.28"/><rect class="g" x="749.985"/><rect class="g" x="751.691"/><rect class="g" x="753.397"/><rect class="w" x="755.102"/><rect class="g" x="756.808"/><rect class="w" x="758.513"/><rect class="g" x="760.219"/><rect class="w" x="761.924"/><rect class="w" x="763.63"/><rect class="g" x="765.336"/><rect class="g" x="767.041"/><rect class="g" x="768.747"/><rect class="w" x="770.452"/><rect class="w" x="772.158"/><rect class="g" x="773.864"/><rect class="w" x="775.569"/><rect class="w" x="777.275"/><rect class="w" x="778.98"/><rect class="w" x="780.686"/><rect class="g" x="782.392"/><rect class="g" x="784.097"/><rect class="w" x="785.803"/><rect class="w" x="787.508"/><rect class="w" x="789.214"/><rect class="w" x="790.92"/><rect class="w" x="792.625"/><rect class="g" x="794.331"/><rect class="w" x="796.036"/><rect class="w" x="797.742"/><rect class="w" x="799.447"/><rect class="w" x="801.153"/><rect class="w" x="802.859"/><rect class="w" x="804.564"/><rect class="w" x="806.27"/><rect class="w" x="807.975"/><rect class="w" x="809.681"/><rect class="w" x="811.387"/><rect class="w" x="813.092"/><rect class="w" x="814.798"/><rect class="g" x="816.503"/><rect class="g" x="818.209"/><rect class="w" x="819.915"/><rect class="g" x="821.62"/><rect class="g" x="823.326"/><rect class="w" x="825.031"/><rect class="w" x="826.737"/><rect class="w" x="828.443"/><rect class="w" x="830.148"/><rect class="g" x="831.854"/><rect class="g" x="833.559"/><rect class="w" x="835.265"/><rect class="w" x="836.971"/><rect class="w" x="838.676"/><rect class="g" x="840.382"/><rect class="w" x="842.087"/><rect class="w" x="843.793"/><rect class="w" x="845.498"/><rect class="w" x="847.204"/><rect class="g" x="848.91"/><rect class="w" x="850.615"/><rect class="w" x="852.321"/><rect class="w" x="854.026"/><rect class="w" x="855.732"/><rect class="w" x="857.438"/><rect class="w" x="859.143"/><rect class="w" x="860.849"/><rect class="w" x="862.554"/><rect class="w" x="864.26"/><rect class="g" x="865.966"/><rect class="w" x="867.671"/><rect class="w" x="869.377"/><rect class="w" x="871.082"/><rect class="w" x="872.788"/><rect class="w" x="874.494"/><rect class="w" x="876.199"/><rect class="w" x="877.905"/><rect class="w" x="879.61"/><rect class="g" x="881.316"/><rect class="g" x="883.021"/><rect class="w" x="884.727"/><rect class="w" x="886.433"/><rect class="g" x="888.138"/><rect class="w" x="889.844"/><rect class="w" x="891.549"/><rect class="w" x="893.255"/><rect class="w" x="894.961"/><rect class="g" x="896.666"/><rect class="g" x="898.372"/><rect class="w" x="900.077"/><rect class="w" x="901.783"/><rect class="g" x="903.489"/><rect class="g" x="905.194"/><rect class="g" x="906.9"/><rect class="w" x="908.605"/><rect class="g" x="910.311"/><rect class="w" x="912.017"/><rect class="w" x="913.722"/><rect class="w" x="915.428"/><rect class="w" x="917.133"/><rect class="w" x="918.839"/><rect class="w" x="920.544"/><rect class="w" x="922.25"/><rect class="w" x="923.956"/><rect class="w" x="925.661"/><rect class="w" x="927.367"/><rect class="w" x="929.072"/><rect class="g" x="930.778"/><rect class="w" x="932.484"/><rect class="w" x="934.189"/><rect class="w" x="935.895"/><rect class="w" x="937.6"/><rect class="w" x="939.306"/><rect class="w" x="941.012"/><rect class="g" x="942.717"/><rect class="w" x="944.423"/><rect class="w" x="946.128"/><rect class="g" x="947.834"/><rect class="g" x="949.54"/><rect class="g" x="951.245"/><rect class="g" x="952.951"/><rect class="g" x="954.656"/><rect class="g" x="956.362"/><rect class="w" x="958.068"/><rect class="w" x="959.773"/><rect class="w" x="961.479"/><rect class="g" x="963.184"/><rect class="g" x="964.89"/><rect class="g" x="966.595"/><rect class="w" x="968.301"/><rect class="g" x="970.007"/><rect class="g" x="971.712"/><rect class="w" x="973.418"/><rect class="g" x="975.123"/><rect class="w" x="976.829"/><rect class="w" x="978.535"/><rect class="g" x="980.24"/><rect class="g" x="981.946"/><rect class="g" x="983.651"/><rect class="g" x="985.357"/><rect class="g" x="987.063"/><rect class="w" x="988.768"/><rect class="g" x="990.474"/><rect class="w" x="992.179"/><rect class="w" x="993.885"/><rect class="g" x="995.591"/><rect class="w" x="997.296"/><rect class="w" x="999.002"/><rect class="w" x="1000.707"/><rect class="w" x="1002.413"/><rect class="g" x="1004.118"/><rect class="w" x="1005.824"/><rect class="w" x="1007.53"/><rect class="w" x="1009.235"/><rect class="w" x="1010.941"/><rect class="g" x="1012.646"/><rect class="w" x="1014.352"/><rect class="w" x="1016.058"/><rect class="w" x="1017.763"/><rect class="g" x="1019.469"/><rect class="g" x="1021.174"/><rect class="w" x="1022.88"/><rect class="g" x="1024.586"/><rect class="g" x="1026.291"/><rect class="g" x="1027.997"/><rect class="g" x="1029.702"/><rect class="g" x="1031.408"/><rect class="g" x="1033.114"/><rect class="w" x="1034.819"/><rect class="g" x="1036.525"/><rect class="w" x="1038.23"/><rect class="g" x="1039.936"/><rect class="g" x="1041.641"/><rect class="g" x="1043.347"/><rect class="w" x="1045.053"/><rect class="g" x="1046.758"/><rect class="w" x="1048.464"/><rect class="g" x="1050.169"/><rect class="w" x="1051.875"/><rect class="w" x="1053.581"/><rect class="w" x="1055.286"/><rect class="w" x="1056.992"/><rect class="w" x="1058.697"/><rect class="g" x="1060.403"/><rect class="g" x="1062.109"/><rect class="w" x="1063.814"/><rect class="w" x="1065.52"/><rect class="w" x="1067.225"/><rect class="w" x="1068.931"/><rect class="w" x="1070.637"/><rect class="w" x="1072.342"/><rect class="w" x="1074.048"/><rect class="g" x="1075.753"/><rect class="g" x="1077.459"/><rect class="g" x="1079.165"/><rect class="g" x="1080.87"/><rect class="g" x="1082.576"/><rect class="w" x="1084.281"/><rect class="w" x="1085.987"/><rect class="w" x="1087.692"/><rect class="w" x="1089.398"/><rect class="g" x="1091.104"/><rect class="w" x="1092.809"/><rect class="g" x="1094.515"/><rect class="g" x="1096.22"/><rect class="g" x="1097.926"/><rect class="w" x="1099.632"/><rect class="w" x="1101.337"/><rect class="w" x="1103.043"/><rect class="w" x="1104.748"/><rect class="g" x="1106.454"/><rect class="g" x="1108.16"/><rect class="g" x="1109.865"/><rect class="w" x="1111.571"/><rect class="w" x="1113.276"/><rect class="w" x="1114.982"/><rect class="w" x="1116.688"/><rect class="w" x="1118.393"/><rect class="w" x="1120.099"/><rect class="w" x="1121.804"/><rect class="w" x="1123.51"/><rect class="w" x="1125.215"/><rect class="w" x="1126.921"/><rect class="g" x="1128.627"/><rect class="g" x="1130.332"/><rect class="g" x="1132.038"/><rect class="g" x="1133.743"/><rect class="g" x="1135.449"/><rect class="g" x="1137.155"/><rect class="g" x="1138.86"/><rect class="w" x="1140.566"/><rect class="w" x="1142.271"/><rect class="w" x="1143.977"/><rect class="w" x="1145.683"/><rect class="w" x="1147.388"/><rect class="w" x="1149.094"/><rect class="w" x="1150.799"/><rect class="w" x="1152.505"/><rect class="w" x="1154.211"/><rect class="w" x="1155.916"/><rect class="w" x="1157.622"/><rect class="w" x="1159.327"/><rect class="w" x="1161.033"/><rect class="w" x="1162.738"/><rect class="w" x="1164.444"/><rect class="w" x="1166.15"/><rect class="w" x="1167.855"/><rect class="w" x="1169.561"/><rect class="w" x="1171.266"/><rect class="w" x="1172.972"/><rect class="w" x="1174.678"/><rect class="w" x="1176.383"/><rect class="w" x="1178.089"/><rect class="w" x="1179.794"/>
</g></g>
<rect x="128.976" y="400.402" width="1052.697" height="0.347"/>
<rect x="128.976" y="473.679" width="1052.697" height="0.347"/>
<g clip-path="url(#r6)"><g class="k" transform="translate(0 468.853)">
<rect class="w" x="129.15"/><rect class="w" x="130.856"/><rect class="w" x="132.561"/><rect class="w" x="134.267"/><rect class="w" x="135.972"/><rect class="w" x="137.678"/><rect class="w" x="139.384"/><rect class="w" x="141.089"/><rect class="w" x="142.795"/><rect class="w" x="144.5"/><rect class="w" x="146.206"/><rect class="w" x="147.912"/><rect class="w" x="149.617"/><rect class="w" x="151.323"/><rect class="w" x="153.028"/><rect class="w" x="154.734"/><rect class="w" x="156.439"/><rect class="w" x="158.145"/><rect class="w" x="159.851"/><rect class="w" x="161.556"/><rect class="w" x="163.262"/><rect class="w" x="164.967"/><rect class="w" x="166.673"/><rect class="w" x="168.379"/><rect class="w" x="170.084"/><rect class="w" x="171.79"/><rect class="w" x="173.495"/><rect class="w" x="175.201"/><rect class="w" x="176.907"/><rect class="w" x="178.612"/><rect class="w" x="180.318"/><rect class="w" x="182.023"/><rect class="w" x="183.729"/><rect class="w" x="185.435"/><rect class="w" x="187.14"/><rect class="w" x="188.846"/><rect class="w" x="190.551"/><rect class="w" x="192.257"/><rect class="w" x="193.962"/><rect class="w" x="195.668"/><rect class="w" x="197.374"/><rect class="w" x="199.079"/><rect class="w" x="200.785"/><rect class="w" x="202.49"/><rect class="w" x="204.196"/><rect class="w" x="205.902"/><rect class="w" x="207.607"/><rect class="w" x="209.313"/><rect class="w" x="211.018"/><rect class="w" x="212.724"/><rect class="w" x="214.43"/><rect class="w" x="216.135"/><rect class="w" x="217.841"/><rect class="w" x="219.546"/><rect class="w" x="221.252"/><rect class="w" x="222.958"/><rect class="w" x="224.663"/><rect class="w" x="226.369"/><rect class="w" x="228.074"/><rect class="w" x="229.78"/><rect class="w" x="231.485"/><rect class="w" x="233.191"/><rect class="w" x="234.897"/><rect class="w" x="236.602"/><rect class="w" x="238.308"/><rect class="w" x="240.013"/><rect class="w" x="241.719"/><rect class="w" x="243.425"/><rect class="w" x="245.13"/><rect class="w" x="246.836"/><rect class="w" x="248.541"/><rect class="w" x="250.247"/><rect class="w" x="251.953"/><rect class="w" x="253.658"/><rect class="w" x="255.364"/><rect class="w" x="257.069"/><rect class="w" x="258.775"/><rect class="w" x="260.481"/><rect class="w" x="262.186"/><rect class="w" x="263.892"/><rect class="w" x="265.597"/><rect class="w" x="267.303"/><rect class="w" x="269.009"/><rect class="w" x="270.714"/><rect class="w" x="272.42"/><rect class="w" x="274.125"/><rect class="w" x="275.831"/><rect class="w" x="277.536"/><rect class="w" x="279.242"/><rect class="w" x="280.948"/><rect class="w" x="282.653"/><rect class="w" x="284.359"/><rect class="w" x="286.064"/><rect class="w" x="287.77"/><rect class="w" x="289.476"/><rect class="w" x="291.181"/><rect class="w" x="292.887"/><rect class="w" x="294.592"/><rect class="w" x="296.298"/><rect class="w" x="298.004"/><rect class="w" x="299.709"/><rect class="w" x="301.415"/><rect class="w" x="303.12"/><rect class="w" x="304.826"/><rect class="w" x="306.532"/><rect class="w" x="308.237"/><rect class="w" x="309.943"/><rect class="w" x="311.648"/><rect class="w" x="313.354"/><rect class="w" x="315.059"/><rect class="w" x="316.765"/><rect class="w" x="318.471"/><rect class="w" x="320.176"/><rect class="w" x="321.882"/><rect class="w" x="323.587"/><rect class="w" x="325.293"/><rect class="w" x="326.999"/><rect class="w" x="328.704"/><rect class="w" x="330.41"/><rect class="w" x="332.115"/><rect class="w" x="333.821"/><rect class="w" x="335.527"/><rect class="w" x="337.232"/><rect class="w" x="338.938"/><rect class="w" x="340.643"/><rect class="w" x="342.349"/><rect class="w" x="344.055"/><rect class="w" x="345.76"/><rect class="w" x="347.466"/><rect class="w" x="349.171"/><rect class="w" x="350.877"/><rect class="w" x="352.582"/><rect class="w" x="354.288"/><rect class="w" x="355.994"/><rect class="w" x="357.699"/><rect class="w" x="359.405"/><rect class="w" x="361.11"/><rect class="w" x="362.816"/><rect class="w" x="364.522"/><rect class="w" x="366.227"/><rect class="w" x="367.933"/><rect class="w" x="369.638"/><rect class="w" x="371.344"/><rect class="w" x="373.05"/><rect class="w" x="374.755"/><rect class="w" x="376.461"/><rect class="w" x="378.166"/><rect class="w" x="379.872"/><rect class="w" x="381.578"/><rect class="w" x="383.283"/><rect class="w" x="384.989"/><rect class="w" x="386.694"/><rect class="w" x="388.4"/><rect class="w" x="390.106"/><rect class="w" x="391.811"/><rect class="w" x="393.517"/><rect class="w" x="395.222"/><rect class="w" x="396.928"/><rect class="w" x="398.633"/><rect class="w" x="400.339"/><rect class="w" x="402.045"/><rect class="w" x="403.75"/><rect class="w" x="405.456"/><rect class="w" x="407.161"/><rect class="w" x="408.867"/><rect class="w" x="410.573"/><rect class="w" x="412.278"/><rect class="w" x="413.984"/><rect class="w" x="415.689"/><rect class="w" x="417.395"/><rect class="w" x="419.101"/><rect class="w" x="420.806"/><rect class="w" x="422.512"/><rect class="w" x="424.217"/><rect class="w" x="425.923"/><rect class="w" x="427.629"/><rect class="w" x="429.334"/><rect class="w" x="431.04"/><rect class="w" x="432.745"/><rect class="w" x="434.451"/><rect class="w" x="436.156"/><rect class="w" x="437.862"/><rect class="w" x="439.568"/><rect class="w" x="441.273"/><rect class="w" x="442.979"/><rect class="w" x="444.684"/><rect class="w" x="446.39"/><rect class="g" x="448.096"/><rect class="w" x="449.801"/><rect class="g" x="451.507"/><rect class="g" x="453.212"/><rect class="g" x="454.918"/><rect class="w" x="456.624"/><rect class="w" x="458.329"/><rect class="w" x="460.035"/><rect class="w" x="461.74"/><rect class="w" x="463.446"/><rect class="w" x="465.152"/><rect class="w" x="466.857"/><rect class="w" x="468.563"/><rect class="w" x="470.268"/><rect class="w" x="471.974"/><rect class="w" x="473.679"/><rect class="w" x="475.385"/><rect class="w" x="477.091"/><rect class="w" x="478.796"/><rect class="w" x="480.502"/><rect class="w" x="482.207"/><rect class="w" x="483.913"/><rect class="w" x="485.619"/><rect class="w" x="487.324"/><rect class="w" x="489.03"/><rect class="w" x="490.735"/><rect class="w" x="492.441"/><rect class="w" x="494.147"/><rect class="w" x="495.852"/><rect class="w" x="497.558"/><rect class="w" x="499.263"/><rect class="w" x="500.969"/><rect class="w" x="502.675"/><rect class="w" x="504.38"/><rect class="w" x="506.086"/><rect class="w" x="507.791"/><rect class="w" x="509.497"/><rect class="w" x="511.203"/><rect class="w" x="512.908"/><rect class="w" x="514.614"/><rect class="w" x="516.319"/><rect class="w" x="518.025"/><rect class="w" x="519.73"/><rect class="w" x="521.436"/><rect class="w" x="523.142"/><rect class="w" x="524.847"/><rect class="w" x="526.553"/><rect class="w" x="528.258"/><rect class="w" x="529.964"/><rect class="w" x="531.67"/><rect class="w" x="533.375"/><rect class="w" x="535.081"/><rect class="w" x="536.786"/><rect class="w" x="538.492"/><rect class="w" x="540.198"/><rect class="w" x="541.903"/><rect class="w" x="543.609"/><rect class="w" x="545.314"/><rect class="w" x="547.02"/><rect class="w" x="548.726"/><rect class="w" x="550.431"/><rect class="w" x="552.137"/><rect class="w" x="553.842"/><rect class="w" x="555.548"/><rect class="w" x="557.253"/><rect class="w" x="558.959"/><rect class="w" x="560.665"/><rect class="w" x="562.37"/><rect class="w" x="564.076"/><rect class="w" x="565.781"/><rect class="w" x="567.487"/><rect class="w" x="569.193"/><rect class="g" x="570.898"/><rect class="w" x="572.604"/><rect class="w" x="574.309"/><rect class="w" x="576.015"/><rect class="w" x="577.721"/><rect class="w" x="579.426"/><rect class="w" x="581.132"/><rect class="w" x="582.837"/><rect class="w" x="584.543"/><rect class="w" x="586.249"/><rect class="w" x="587.954"/><rect class="w" x="589.66"/><rect class="w" x="591.365"/><rect class="w" x="593.071"/><rect class="w" x="594.776"/><rect class="w" x="596.482"/><rect class="w" x="598.188"/><rect class="w" x="599.893"/><rect class="w" x="601.599"/><rect class="w" x="603.304"/><rect class="w" x="605.01"/><rect class="w" x="606.716"/><rect class="w" x="608.421"/><rect class="w" x="610.127"/><rect class="w" x="611.832"/><rect class="w" x="613.538"/><rect class="w" x="615.244"/><rect class="w" x="616.949"/><rect class="w" x="618.655"/><rect class="w" x="620.36"/><rect class="w" x="622.066"/><rect class="w" x="623.772"/><rect class="w" x="625.477"/><rect class="w" x="627.183"/><rect class="w" x="628.888"/><rect class="w" x="630.594"/><rect class="w" x="632.3"/><rect class="w" x="634.005"/><rect class="w" x="635.711"/><rect class="w" x="637.416"/><rect class="w" x="639.122"/><rect class="w" x="640.827"/><rect class="w" x="642.533"/><rect class="w" x="644.239"/><rect class="w" x="645.944"/><rect class="w" x="647.65"/><rect class="w" x="649.355"/><rect class="w" x="651.061"/><rect class="w" x="652.767"/><rect class="w" x="654.472"/><rect class="w" x="656.178"/><rect class="w" x="657.883"/><rect class="w" x="659.589"/><rect class="w" x="661.295"/><rect class="w" x="663"/><rect class="w" x="664.706"/><rect class="w" x="666.411"/><rect class="w" x="668.117"/><rect class="w" x="669.823"/><rect class="w" x="671.528"/><rect class="w" x="673.234"/><rect class="w" x="674.939"/><rect class="w" x="676.645"/><rect class="w" x="678.35"/><rect class="w" x="680.056"/><rect class="w" x="681.762"/><rect class="w" x="683.467"/><rect class="w" x="685.173"/><rect class="w" x="686.878"/><rect class="w" x="688.584"/><rect class="w" x="690.29"/><rect class="w" x="691.995"/><rect class="w" x="693.701"/><rect class="w" x="695.406"/><rect class="w" x="697.112"/><rect class="w" x="698.818"/><rect class="w" x="700.523"/><rect class="w" x="702.229"/><rect class="w" x="703.934"/><rect class="w" x="705.64"/><rect class="w" x="707.346"/><rect class="w" x="709.051"/><rect class="w" x="710.757"/><rect class="w" x="712.462"/><rect class="w" x="714.168"/><rect class="w" x="715.874"/><rect class="w" x="717.579"/><rect class="w" x="719.285"/><rect class="w" x="720.99"/><rect class="w" x="722.696"/><rect class="w" x="724.401"/><rect class="w" x="726.107"/><rect class="w" x="727.813"/><rect class="w" x="729.518"/><rect class="w" x="731.224"/><rect class="w" x="732.929"/><rect class="w" x="734.635"/><rect class="w" x="736.341"/><rect class="w" x="738.046"/><rect class="w" x="739.752"/><rect class="w" x="741.457"/><rect class="w" x="743.163"/><rect class="w" x="744.869"/><rect class="w" x="746.574"/><rect class="w" x="748.28"/><rect class="w" x="749.985"/><rect class="w" x="751.691"/><rect class="w" x="753.397"/><rect class="w" x="755.102"/><rect class="w" x="756.808"/><rect class="w" x="758.513"/><rect class="w" x="760.219"/><rect class="w" x="761.924"/><rect class="w" x="763.63"/><rect class="w" x="765.336"/><rect class="w" x="767.041"/><rect class="w" x="768.747"/><rect class="w" x="770.452"/><rect class="w" x="772.158"/><rect class="w" x="773.864"/><rect class="w" x="775.569"/><rect class="w" x="777.275"/><rect class="w" x="778.98"/><rect class="w" x="780.686"/><rect class="w" x="782.392"/><rect class="w" x="784.097"/><rect class="w" x="785.803"/><rect class="w" x="787.508"/><rect class="w" x="789.214"/><rect class="w" x="790.92"/><rect class="w" x="792.625"/><rect class="w" x="794.331"/><rect class="w" x="796.036"/><rect class="w" x="797.742"/><rect class="w" x="799.447"/><rect class="w" x="801.153"/><rect class="w" x="802.859"/><rect class="w" x="804.564"/><rect class="w" x="806.27"/><rect class="w" x="807.975"/><rect class="w" x="809.681"/><rect class="w" x="811.387"/><rect class="w" x="813.092"/><rect class="w" x="814.798"/><rect class="w" x="816.503"/><rect class="w" x="818.209"/><rect class="w" x="819.915"/><rect class="w" x="821.62"/><rect class="w" x="823.326"/><rect class="w" x="825.031"/><rect class="w" x="826.737"/><rect class="w" x="828.443"/><rect class="w" x="830.148"/><rect class="w" x="831.854"/><rect class="w" x="833.559"/><rect class="w" x="835.265"/><rect class="w" x="836.971"/><rect class="w" x="838.676"/><rect class="w" x="840.382"/><rect class="w" x="842.087"/><rect class="w" x="843.793"/><rect class="w" x="845.498"/><rect class="w" x="847.204"/><rect class="w" x="848.91"/><rect class="w" x="850.615"/><rect class="w" x="852.321"/><rect class="w" x="854.026"/><rect class="w" x="855.732"/><rect class="w" x="857.438"/><rect class="w" x="859.143"/><rect class="w" x="860.849"/><rect class="w" x="862.554"/><rect class="w" x="864.26"/><rect class="w" x="865.966"/><rect class="w" x="867.671"/><rect class="w" x="869.377"/><rect class="w" x="871.082"/><rect class="w" x="872.788"/><rect class="w" x="874.494"/><rect class="w" x="876.199"/><rect class="w" x="877.905"/><rect class="w" x="879.61"/><rect class="w" x="881.316"/><rect class="w" x="883.021"/><rect class="w" x="884.727"/><rect class="w" x="886.433"/><rect class="w" x="888.138"/><rect class="w" x="889.844"/><rect class="w" x="891.549"/><rect class="w" x="893.255"/><rect class="w" x="894.961"/><rect class="w" x="896.666"/><rect class="w" x="898.372"/><rect class="w" x="900.077"/><rect class="w" x="901.783"/><rect class="w" x="903.489"/><rect class="w" x="905.194"/><rect class="w" x="906.9"/><rect class="w" x="908.605"/><rect class="w" x="910.311"/><rect class="w" x="912.017"/><rect class="w" x="913.722"/><rect class="w" x="915.428"/><rect class="w" x="917.133"/><rect class="w" x="918.839"/><rect class="w" x="920.544"/><rect class="w" x="922.25"/><rect class="w" x="923.956"/><rect class="w" x="925.661"/><rect class="w" x="927.367"/><rect class="w" x="929.072"/><rect class="w" x="930.778"/><rect class="w" x="932.484"/><rect class="w" x="934.189"/><rect class="w" x="935.895"/><rect class="w" x="937.6"/><rect class="w" x="939.306"/><rect class="w" x="941.012"/><rect class="w" x="942.717"/><rect class="w" x="944.423"/><rect class="w" x="946.128"/><rect class="w" x="947.834"/><rect class="w" x="949.54"/><rect class="w" x="951.245"/><rect class="w" x="952.951"/><rect class="w" x="954.656"/><rect class="w" x="956.362"/><rect class="w" x="958.068"/><rect class="w" x="959.773"/><rect class="w" x="961.479"/><rect class="w" x="963.184"/><rect class="w" x="964.89"/><rect class="w" x="966.595"/><rect class="w" x="968.301"/><rect class="w" x="970.007"/><rect class="w" x="971.712"/><rect class="w" x="973.418"/><rect class="w" x="975.123"/><rect class="w" x="976.829"/><rect class="w" x="978.535"/><rect class="w" x="980.24"/><rect class="w" x="981.946"/><rect class="w" x="983.651"/><rect class="w" x="985.357"/><rect class="w" x="987.063"/><rect class="w" x="988.768"/><rect class="w" x="990.474"/><rect class="w" x="992.179"/><rect class="w" x="993.885"/><rect class="w" x="995.591"/><rect class="w" x="997.296"/><rect class="w" x="999.002"/><rect class="w" x="1000.707"/><rect class="w" x="1002.413"/><rect class="w" x="1004.118"/><rect class="w" x="1005.824"/><rect class="w" x="1007.53"/><rect class="w" x="1009.235"/><rect class="w" x="1010.941"/><rect class="w" x="1012.646"/><rect class="w" x="1014.352"/><rect class="w" x="1016.058"/><rect class="w" x="1017.763"/><rect class="w" x="1019.469"/><rect class="w" x="1021.174"/><rect class="w" x="1022.88"/><rect class="w" x="1024.586"/><rect class="w" x="1026.291"/><rect class="w" x="1027.997"/><rect class="w" x="1029.702"/><rect class="w" x="1031.408"/><rect class="w" x="1033.114"/><rect class="w" x="1034.819"/><rect class="w" x="1036.525"/><rect class="w" x="1038.23"/><rect class="w" x="1039.936"/><rect class="w" x="1041.641"/><rect class="w" x="1043.347"/><rect class="w" x="1045.053"/><rect class="w" x="1046.758"/><rect class="w" x="1048.464"/><rect class="w" x="1050.169"/><rect class="w" x="1051.875"/><rect class="w" x="1053.581"/><rect class="w" x="1055.286"/><rect class="w" x="1056.992"/><rect class="w" x="1058.697"/><rect class="w" x="1060.403"/><rect class="w" x="1062.109"/><rect class="w" x="1063.814"/><rect class="w" x="1065.52"/><rect class="w" x="1067.225"/><rect class="w" x="1068.931"/><rect class="w" x="1070.637"/><rect class="w" x="1072.342"/><rect class="w" x="1074.048"/><rect class="w" x="1075.753"/><rect class="w" x="1077.459"/><rect class="w" x="1079.165"/><rect class="w" x="1080.87"/><rect class="w" x="1082.576"/><rect class="w" x="1084.281"/><rect class="w" x="1085.987"/><rect class="w" x="1087.692"/><rect class="w" x="1089.398"/><rect class="w" x="1091.104"/><rect class="w" x="1092.809"/><rect class="w" x="1094.515"/><rect class="w" x="1096.22"/><rect class="w" x="1097.926"/><rect class="w" x="1099.632"/><rect class="w" x="1101.337"/><rect class="w" x="1103.043"/><rect class="w" x="1104.748"/><rect class="w" x="1106.454"/><rect class="w" x="1108.16"/><rect class="w" x="1109.865"/><rect class="w" x="1111.571"/><rect class="w" x="1113.276"/><rect class="w" x="1114.982"/><rect class="w" x="1116.688"/><rect class="w" x="1118.393"/><rect class="w" x="1120.099"/><rect class="w" x="1121.804"/><rect class="w" x="1123.51"/><rect class="w" x="1125.215"/><rect class="w" x="1126.921"/><rect class="w" x="1128.627"/><rect class="w" x="1130.332"/><rect class="w" x="1132.038"/><rect class="w" x="1133.743"/><rect class="w" x="1135.449"/><rect class="w" x="1137.155"/><rect class="w" x="1138.86"/><rect class="w" x="1140.566"/><rect class="w" x="1142.271"/><rect class="w" x="1143.977"/><rect class="w" x="1145.683"/><rect class="w" x="1147.388"/><rect class="w" x="1149.094"/><rect class="w" x="1150.799"/><rect class="w" x="1152.505"/><rect class="w" x="1154.211"/><rect class="w" x="1155.916"/><rect class="w" x="1157.622"/><rect class="w" x="1159.327"/><rect class="w" x="1161.033"/><rect class="w" x="1162.738"/><rect class="w" x="1164.444"/><rect class="w" x="1166.15"/><rect class="w" x="1167.855"/><rect class="w" x="1169.561"/><rect class="w" x="1171.266"/><rect class="w" x="1172.972"/><rect class="w" x="1174.678"/><rect class="w" x="1176.383"/><rect class="w" x="1178.089"/><rect class="w" x="1179.794"/>
</g></g>
<rect x="128.976" y="473.679" width="1052.697" height="0.347"/>
<rect x="128.976" y="546.956" width="1052.697" height="0.347"/>
</g>
<path class="t" d="M129.5 547.5v5.3M300.5 547.5v5.3M470.5 547.5v5.3M641.5 547.5v5.3M811.5 547.5v5.3M982.5 547.5v5.3M1153.5 547.5v5.3M129.5 71.5h-5.3M129.5 144.5h-5.3M129.5 217.5h-5.3M129.5 291.5h-5.3M129.5 364.5h-5.3M129.5 437.5h-5.3M129.5 510.5h-5.3"/>
<path class="sp" d="M129.5 34.5V547.5M1182.5 34.5V547.5M129.5 547.5H1182.5M129.5 34.5H1182.5"/>
<g class="tk" text-anchor="middle" letter-spacing="-0.3">
<text x="129.65" y="563.8">0</text>
<text x="300.21" y="563.8">100</text>
<text x="470.77" y="563.8">200</text>
<text x="641.33" y="563.8">300</text>
<text x="811.89" y="563.8">400</text>
<text x="982.45" y="563.8">500</text>
<text x="1153" y="563.8">600</text>
</g><g class="tk" text-anchor="end">
<text x="119.9" y="75.13">BCR (617)</text>
<text x="119.9" y="148.41">CN (599)</text>
<text x="119.9" y="221.68">Clinical (598)</text>
<text x="119.9" y="294.96">Methylation (423)</text>
<text x="119.9" y="368.24">MAF (396)</text>
<text x="119.9" y="441.51">mRNA (166)</text>
<text x="119.9" y="514.79">miR (5)</text>
</g>
<text class="b" text-anchor="middle" font-size="14" x="654.8" y="25.9">TCGA-GBM: Data Type Breakdown by Participant</text>
<text class="b" text-anchor="middle" font-size="11.55" x="655.3" y="581.6">Participant</text>
<text class="b" text-anchor="middle" font-size="11.8" transform="translate(24.3 291.06) rotate(-90)">Data Type (Total Sample Count)</text>
<rect x="1083.2" y="41.2" width="92.4" height="42.5" rx="2.5" ry="2.5" fill="#fff" fill-opacity="0.8" stroke="#ccc" stroke-opacity="0.8" stroke-width="1.11"/><rect x="1088" y="47" width="25" height="8.8" fill="#2e8b57"/><rect x="1088" y="66" width="25" height="8.8" fill="#fff"/><text font-size="12.3" x="1123" y="56">Present</text><text font-size="12.3" x="1123" y="75" letter-spacing="-0.2">Absent</text>
</svg></body></html>
